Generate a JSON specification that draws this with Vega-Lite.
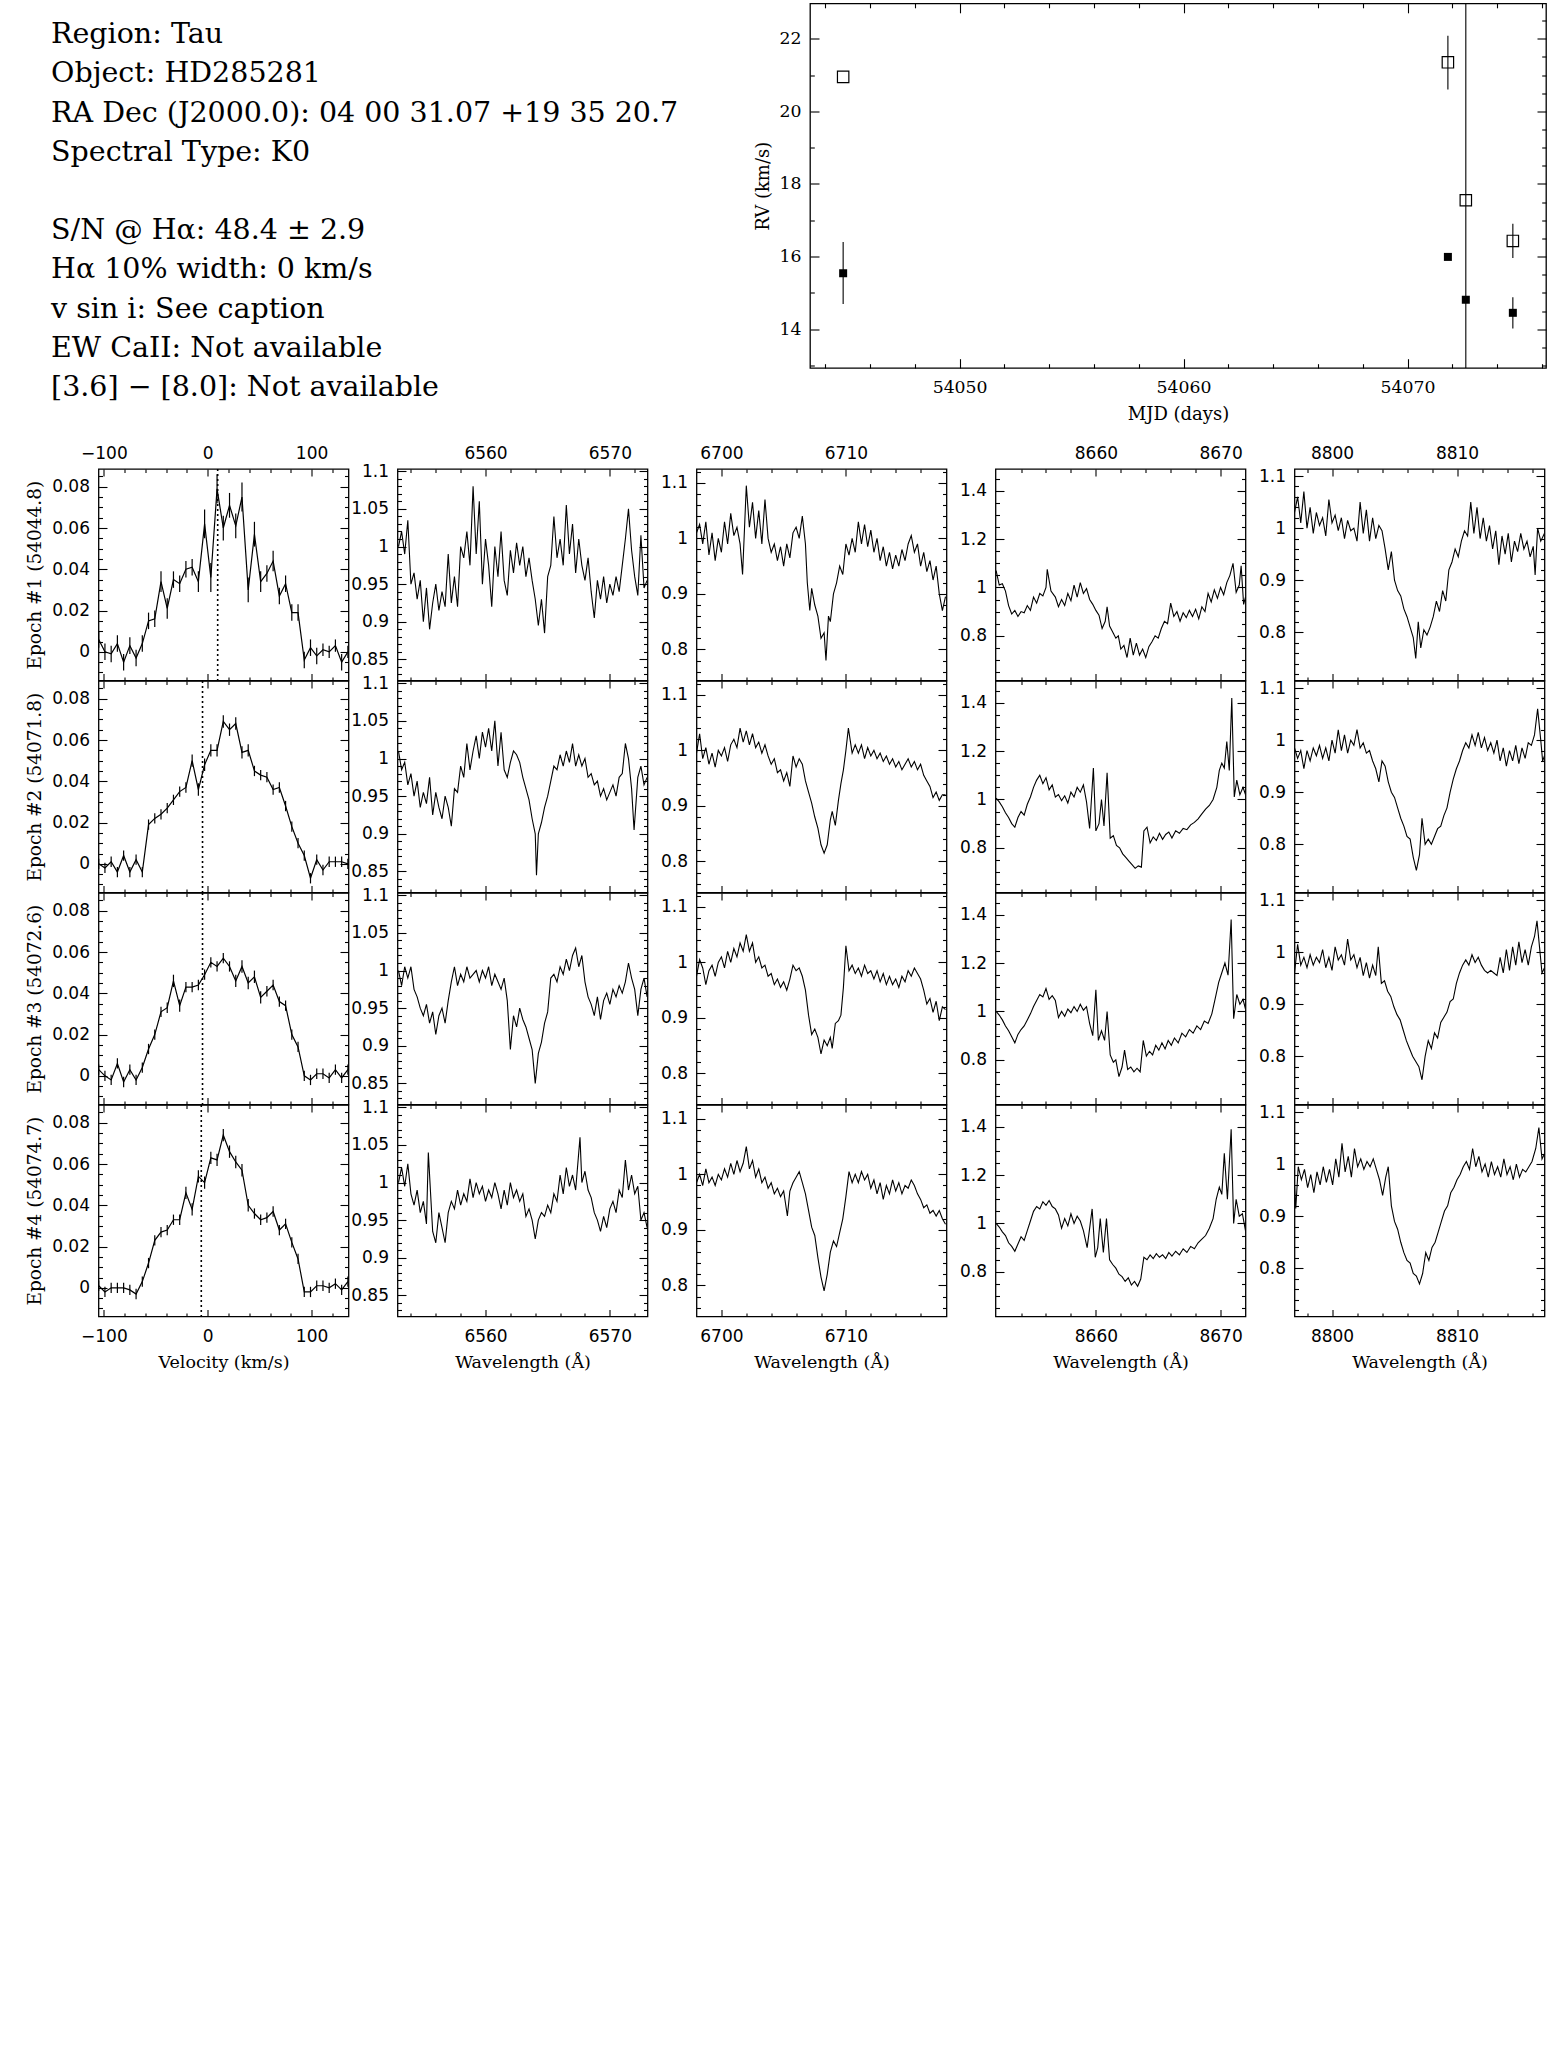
{
"$schema": "https://vega.github.io/schema/vega-lite/v6.json",
"background": "white",
"padding": {"left": 24.5, "top": 1.5, "right": 0, "bottom": 0},
"spacing": 14.5,
"config": {
 "view": {"stroke": "black", "strokeWidth": 1.3},
 "axis": {"domain": false, "grid": false, "ticks": true, "tickColor": "black", "tickWidth": 1.1, "labelFont": "DejaVu Sans", "labelFontSize": 17, "labelColor": "black", "labelFlush": false, "labelOverlap": false, "labelBound": false, "titleFont": "DejaVu Serif", "titleFontSize": 17.5, "titleFontWeight": "normal", "titleColor": "black"}
},
"datasets": {
 "txt": [{"x":0,"line":0,"s":"Region: Tau"},{"x":0,"line":1,"s":"Object: HD285281"},{"x":0,"line":2,"s":"RA Dec (J2000.0): 04 00 31.07 +19 35 20.7"},{"x":0,"line":3,"s":"Spectral Type: K0"},{"x":0,"line":5,"s":"S/N @ Hα: 48.4 ± 2.9"},{"x":0,"line":6,"s":"Hα 10% width: 0 km/s"},{"x":0,"line":7,"s":"v sin i: See caption"},{"x":0,"line":8,"s":"EW CaII: Not available"},{"x":0,"line":9,"s":"[3.6] − [8.0]: Not available"}],
 "rv": [{"t":54044.8,"rv":20.95,"lo":20.95,"hi":20.95,"k":"o"},{"t":54071.8,"rv":21.35,"lo":20.6,"hi":22.08,"k":"o"},{"t":54072.6,"rv":17.55,"lo":5,"hi":30,"k":"o"},{"t":54074.7,"rv":16.43,"lo":15.96,"hi":16.9,"k":"o"},{"t":54044.8,"rv":15.54,"lo":14.69,"hi":16.4,"k":"f"},{"t":54071.8,"rv":15.99,"lo":15.99,"hi":15.99,"k":"f"},{"t":54072.6,"rv":14.81,"lo":14.81,"hi":14.81,"k":"f"},{"t":54074.7,"rv":14.45,"lo":14.02,"hi":14.88,"k":"f"}],
 "v1": [{"v":-105,"f":0.006,"e":0.004},{"v":-99,"f":0,"e":0.004},{"v":-93,"f":-0.001,"e":0.004},{"v":-87,"f":0.004,"e":0.004},{"v":-81,"f":-0.005,"e":0.004},{"v":-75,"f":0.003,"e":0.004},{"v":-69,"f":-0.003,"e":0.004},{"v":-63,"f":0.004,"e":0.004},{"v":-57,"f":0.015,"e":0.004},{"v":-51,"f":0.016,"e":0.004},{"v":-45,"f":0.034,"e":0.005},{"v":-39,"f":0.021,"e":0.005},{"v":-33,"f":0.035,"e":0.004},{"v":-27,"f":0.033,"e":0.004},{"v":-21,"f":0.04,"e":0.004},{"v":-15,"f":0.041,"e":0.004},{"v":-9,"f":0.034,"e":0.005},{"v":-3,"f":0.062,"e":0.007},{"v":3,"f":0.036,"e":0.007},{"v":9,"f":0.079,"e":0.007},{"v":15,"f":0.06,"e":0.006},{"v":21,"f":0.071,"e":0.006},{"v":27,"f":0.061,"e":0.006},{"v":33,"f":0.075,"e":0.007},{"v":39,"f":0.03,"e":0.006},{"v":45,"f":0.057,"e":0.006},{"v":51,"f":0.034,"e":0.005},{"v":57,"f":0.038,"e":0.004},{"v":63,"f":0.044,"e":0.005},{"v":69,"f":0.027,"e":0.004},{"v":75,"f":0.033,"e":0.004},{"v":81,"f":0.019,"e":0.004},{"v":87,"f":0.019,"e":0.004},{"v":93,"f":-0.004,"e":0.004},{"v":99,"f":0.002,"e":0.004},{"v":105,"f":-0.002,"e":0.004},{"v":111,"f":0.001,"e":0.003},{"v":117,"f":0,"e":0.003},{"v":123,"f":0.003,"e":0.003},{"v":129,"f":-0.005,"e":0.004},{"v":135,"f":0,"e":0.003}],
 "v2": [{"v":-105,"f":0,"e":0.0025},{"v":-99,"f":-0.002,"e":0.0025},{"v":-93,"f":0.001,"e":0.0025},{"v":-87,"f":-0.004,"e":0.0025},{"v":-81,"f":0.004,"e":0.0025},{"v":-75,"f":-0.004,"e":0.0025},{"v":-69,"f":0.002,"e":0.0025},{"v":-63,"f":-0.004,"e":0.0025},{"v":-57,"f":0.019,"e":0.0025},{"v":-51,"f":0.022,"e":0.0025},{"v":-45,"f":0.024,"e":0.0025},{"v":-39,"f":0.027,"e":0.0025},{"v":-33,"f":0.031,"e":0.0025},{"v":-27,"f":0.035,"e":0.0025},{"v":-21,"f":0.037,"e":0.0025},{"v":-15,"f":0.05,"e":0.003},{"v":-9,"f":0.036,"e":0.003},{"v":-3,"f":0.048,"e":0.003},{"v":3,"f":0.055,"e":0.003},{"v":9,"f":0.055,"e":0.003},{"v":15,"f":0.069,"e":0.003},{"v":21,"f":0.065,"e":0.003},{"v":27,"f":0.068,"e":0.003},{"v":33,"f":0.054,"e":0.003},{"v":39,"f":0.055,"e":0.003},{"v":45,"f":0.045,"e":0.0025},{"v":51,"f":0.043,"e":0.0025},{"v":57,"f":0.042,"e":0.0025},{"v":63,"f":0.036,"e":0.0025},{"v":69,"f":0.037,"e":0.0025},{"v":75,"f":0.028,"e":0.0025},{"v":81,"f":0.018,"e":0.0025},{"v":87,"f":0.01,"e":0.0025},{"v":93,"f":0.004,"e":0.0025},{"v":99,"f":-0.007,"e":0.0025},{"v":105,"f":0.002,"e":0.0025},{"v":111,"f":-0.003,"e":0.0025},{"v":117,"f":0.001,"e":0.0025},{"v":123,"f":0.001,"e":0.0025},{"v":129,"f":0.001,"e":0.0025},{"v":135,"f":0,"e":0.0025}],
 "v3": [{"v":-105,"f":0.003,"e":0.0025},{"v":-99,"f":0,"e":0.0025},{"v":-93,"f":-0.002,"e":0.0025},{"v":-87,"f":0.006,"e":0.0025},{"v":-81,"f":-0.003,"e":0.0025},{"v":-75,"f":0.003,"e":0.0025},{"v":-69,"f":-0.002,"e":0.0025},{"v":-63,"f":0.004,"e":0.0025},{"v":-57,"f":0.013,"e":0.0025},{"v":-51,"f":0.02,"e":0.0025},{"v":-45,"f":0.031,"e":0.0025},{"v":-39,"f":0.033,"e":0.0025},{"v":-33,"f":0.046,"e":0.003},{"v":-27,"f":0.034,"e":0.003},{"v":-21,"f":0.043,"e":0.0025},{"v":-15,"f":0.043,"e":0.0025},{"v":-9,"f":0.044,"e":0.0025},{"v":-3,"f":0.049,"e":0.0025},{"v":3,"f":0.055,"e":0.0025},{"v":9,"f":0.053,"e":0.0025},{"v":15,"f":0.057,"e":0.0025},{"v":21,"f":0.053,"e":0.0025},{"v":27,"f":0.046,"e":0.003},{"v":33,"f":0.053,"e":0.003},{"v":39,"f":0.045,"e":0.003},{"v":45,"f":0.048,"e":0.003},{"v":51,"f":0.038,"e":0.003},{"v":57,"f":0.041,"e":0.0025},{"v":63,"f":0.044,"e":0.0025},{"v":69,"f":0.036,"e":0.0025},{"v":75,"f":0.034,"e":0.0025},{"v":81,"f":0.02,"e":0.0025},{"v":87,"f":0.014,"e":0.0025},{"v":93,"f":0,"e":0.0025},{"v":99,"f":-0.002,"e":0.0025},{"v":105,"f":0.001,"e":0.0025},{"v":111,"f":0.001,"e":0.0025},{"v":117,"f":-0.001,"e":0.0025},{"v":123,"f":0.003,"e":0.0025},{"v":129,"f":-0.001,"e":0.0025},{"v":135,"f":0.003,"e":0.0025}],
 "v4": [{"v":-105,"f":0.001,"e":0.0025},{"v":-99,"f":-0.002,"e":0.0025},{"v":-93,"f":0,"e":0.0025},{"v":-87,"f":0,"e":0.0025},{"v":-81,"f":0,"e":0.0025},{"v":-75,"f":-0.001,"e":0.0025},{"v":-69,"f":-0.003,"e":0.0025},{"v":-63,"f":0.003,"e":0.0025},{"v":-57,"f":0.012,"e":0.0025},{"v":-51,"f":0.023,"e":0.0025},{"v":-45,"f":0.027,"e":0.0025},{"v":-39,"f":0.028,"e":0.0025},{"v":-33,"f":0.033,"e":0.0025},{"v":-27,"f":0.033,"e":0.0025},{"v":-21,"f":0.046,"e":0.003},{"v":-15,"f":0.038,"e":0.003},{"v":-9,"f":0.054,"e":0.003},{"v":-3,"f":0.051,"e":0.003},{"v":3,"f":0.063,"e":0.003},{"v":9,"f":0.062,"e":0.003},{"v":15,"f":0.074,"e":0.003},{"v":21,"f":0.066,"e":0.003},{"v":27,"f":0.061,"e":0.003},{"v":33,"f":0.057,"e":0.003},{"v":39,"f":0.04,"e":0.003},{"v":45,"f":0.036,"e":0.0025},{"v":51,"f":0.033,"e":0.0025},{"v":57,"f":0.034,"e":0.0025},{"v":63,"f":0.037,"e":0.0025},{"v":69,"f":0.028,"e":0.0025},{"v":75,"f":0.031,"e":0.0025},{"v":81,"f":0.022,"e":0.0025},{"v":87,"f":0.014,"e":0.0025},{"v":93,"f":-0.002,"e":0.0025},{"v":99,"f":-0.002,"e":0.0025},{"v":105,"f":0.001,"e":0.0025},{"v":111,"f":0.001,"e":0.0025},{"v":117,"f":0,"e":0.0025},{"v":123,"f":0.002,"e":0.0025},{"v":129,"f":-0.001,"e":0.0025},{"v":135,"f":0.003,"e":0.0025}],
 "h1": [{"x":6553,"y":1},{"x":6553.25,"y":1.02},{"x":6553.5,"y":0.99},{"x":6553.75,"y":1.035},{"x":6554,"y":0.95},{"x":6554.25,"y":0.965},{"x":6554.5,"y":0.93},{"x":6554.75,"y":0.955},{"x":6555,"y":0.9},{"x":6555.25,"y":0.945},{"x":6555.5,"y":0.89},{"x":6555.75,"y":0.925},{"x":6556,"y":0.95},{"x":6556.25,"y":0.915},{"x":6556.5,"y":0.94},{"x":6556.75,"y":0.92},{"x":6557,"y":0.99},{"x":6557.25,"y":0.925},{"x":6557.5,"y":0.96},{"x":6557.75,"y":0.92},{"x":6558,"y":1},{"x":6558.25,"y":0.985},{"x":6558.5,"y":1.02},{"x":6558.75,"y":0.975},{"x":6559,"y":1.08},{"x":6559.25,"y":0.99},{"x":6559.5,"y":1.06},{"x":6559.75,"y":0.95},{"x":6560,"y":1.01},{"x":6560.25,"y":0.975},{"x":6560.5,"y":0.92},{"x":6560.75,"y":1},{"x":6561,"y":0.96},{"x":6561.25,"y":1.02},{"x":6561.5,"y":0.955},{"x":6561.75,"y":0.935},{"x":6562,"y":0.995},{"x":6562.25,"y":0.965},{"x":6562.5,"y":1.005},{"x":6562.75,"y":0.975},{"x":6563,"y":1},{"x":6563.25,"y":0.96},{"x":6563.5,"y":0.985},{"x":6563.75,"y":0.955},{"x":6564,"y":0.93},{"x":6564.25,"y":0.895},{"x":6564.5,"y":0.93},{"x":6564.75,"y":0.885},{"x":6565,"y":0.96},{"x":6565.25,"y":0.975},{"x":6565.5,"y":1.04},{"x":6565.75,"y":0.985},{"x":6566,"y":1.01},{"x":6566.25,"y":0.975},{"x":6566.5,"y":1.055},{"x":6566.75,"y":0.99},{"x":6567,"y":1.03},{"x":6567.25,"y":0.965},{"x":6567.5,"y":1.01},{"x":6567.75,"y":0.975},{"x":6568,"y":0.955},{"x":6568.25,"y":0.985},{"x":6568.5,"y":0.94},{"x":6568.75,"y":0.905},{"x":6569,"y":0.955},{"x":6569.25,"y":0.93},{"x":6569.5,"y":0.96},{"x":6569.75,"y":0.925},{"x":6570,"y":0.95},{"x":6570.25,"y":0.935},{"x":6570.5,"y":0.96},{"x":6570.75,"y":0.94},{"x":6571,"y":0.975},{"x":6571.25,"y":1.01},{"x":6571.5,"y":1.05},{"x":6571.75,"y":0.995},{"x":6572,"y":0.96},{"x":6572.25,"y":0.935},{"x":6572.5,"y":1.015},{"x":6572.75,"y":0.945},{"x":6573,"y":0.955}],
 "h2": [{"x":6553,"y":1.01},{"x":6553.25,"y":0.985},{"x":6553.5,"y":0.995},{"x":6553.75,"y":0.965},{"x":6554,"y":0.98},{"x":6554.25,"y":0.95},{"x":6554.5,"y":0.97},{"x":6554.75,"y":0.935},{"x":6555,"y":0.955},{"x":6555.25,"y":0.94},{"x":6555.5,"y":0.975},{"x":6555.75,"y":0.925},{"x":6556,"y":0.955},{"x":6556.25,"y":0.935},{"x":6556.5,"y":0.92},{"x":6556.75,"y":0.95},{"x":6557,"y":0.935},{"x":6557.25,"y":0.91},{"x":6557.5,"y":0.96},{"x":6557.75,"y":0.955},{"x":6558,"y":0.99},{"x":6558.25,"y":0.975},{"x":6558.5,"y":1.02},{"x":6558.75,"y":0.985},{"x":6559,"y":1.01},{"x":6559.25,"y":1.03},{"x":6559.5,"y":1},{"x":6559.75,"y":1.035},{"x":6560,"y":1.015},{"x":6560.25,"y":1.04},{"x":6560.5,"y":1.01},{"x":6560.75,"y":1.05},{"x":6561,"y":0.99},{"x":6561.25,"y":1.035},{"x":6561.5,"y":0.985},{"x":6561.75,"y":0.975},{"x":6562,"y":0.995},{"x":6562.25,"y":1.01},{"x":6562.5,"y":1.005},{"x":6562.75,"y":0.995},{"x":6563,"y":0.975},{"x":6563.25,"y":0.96},{"x":6563.5,"y":0.945},{"x":6563.75,"y":0.92},{"x":6564,"y":0.9},{"x":6564.1,"y":0.845},{"x":6564.25,"y":0.9},{"x":6564.5,"y":0.915},{"x":6564.75,"y":0.935},{"x":6565,"y":0.95},{"x":6565.25,"y":0.97},{"x":6565.5,"y":0.99},{"x":6565.75,"y":0.985},{"x":6566,"y":1.005},{"x":6566.25,"y":0.99},{"x":6566.5,"y":1.01},{"x":6566.75,"y":0.995},{"x":6567,"y":1.02},{"x":6567.25,"y":0.99},{"x":6567.5,"y":1.005},{"x":6567.75,"y":0.99},{"x":6568,"y":1},{"x":6568.25,"y":0.975},{"x":6568.5,"y":0.98},{"x":6568.75,"y":0.965},{"x":6569,"y":0.97},{"x":6569.25,"y":0.95},{"x":6569.5,"y":0.96},{"x":6569.75,"y":0.945},{"x":6570,"y":0.955},{"x":6570.25,"y":0.965},{"x":6570.5,"y":0.95},{"x":6570.75,"y":0.975},{"x":6571,"y":0.98},{"x":6571.25,"y":1.02},{"x":6571.5,"y":1},{"x":6571.75,"y":0.96},{"x":6571.95,"y":0.905},{"x":6572.25,"y":0.975},{"x":6572.5,"y":0.99},{"x":6572.75,"y":0.965},{"x":6573,"y":0.975}],
 "h3": [{"x":6553,"y":1},{"x":6553.25,"y":0.98},{"x":6553.5,"y":1.005},{"x":6553.75,"y":0.99},{"x":6554,"y":1.005},{"x":6554.25,"y":0.975},{"x":6554.5,"y":0.965},{"x":6554.75,"y":0.95},{"x":6555,"y":0.94},{"x":6555.25,"y":0.955},{"x":6555.5,"y":0.93},{"x":6555.75,"y":0.945},{"x":6556,"y":0.915},{"x":6556.25,"y":0.94},{"x":6556.5,"y":0.95},{"x":6556.75,"y":0.93},{"x":6557,"y":0.96},{"x":6557.25,"y":0.985},{"x":6557.5,"y":1.005},{"x":6557.75,"y":0.98},{"x":6558,"y":0.995},{"x":6558.25,"y":0.985},{"x":6558.5,"y":1.005},{"x":6558.75,"y":0.99},{"x":6559,"y":0.995},{"x":6559.25,"y":1},{"x":6559.5,"y":0.985},{"x":6559.75,"y":1},{"x":6560,"y":0.99},{"x":6560.25,"y":1.005},{"x":6560.5,"y":0.98},{"x":6560.75,"y":0.995},{"x":6561,"y":0.985},{"x":6561.25,"y":0.975},{"x":6561.5,"y":0.99},{"x":6561.75,"y":0.96},{"x":6562,"y":0.895},{"x":6562.25,"y":0.94},{"x":6562.5,"y":0.925},{"x":6562.75,"y":0.95},{"x":6563,"y":0.935},{"x":6563.25,"y":0.925},{"x":6563.5,"y":0.91},{"x":6563.75,"y":0.895},{"x":6564,"y":0.85},{"x":6564.25,"y":0.89},{"x":6564.5,"y":0.905},{"x":6564.75,"y":0.93},{"x":6565,"y":0.945},{"x":6565.25,"y":0.99},{"x":6565.5,"y":0.995},{"x":6565.75,"y":0.985},{"x":6566,"y":1.005},{"x":6566.25,"y":0.995},{"x":6566.5,"y":1.015},{"x":6566.75,"y":1},{"x":6567,"y":1.02},{"x":6567.25,"y":1.03},{"x":6567.5,"y":1.005},{"x":6567.75,"y":1.02},{"x":6568,"y":0.985},{"x":6568.25,"y":0.965},{"x":6568.5,"y":0.955},{"x":6568.75,"y":0.94},{"x":6569,"y":0.965},{"x":6569.25,"y":0.935},{"x":6569.5,"y":0.96},{"x":6569.75,"y":0.97},{"x":6570,"y":0.955},{"x":6570.25,"y":0.975},{"x":6570.5,"y":0.965},{"x":6570.75,"y":0.98},{"x":6571,"y":0.97},{"x":6571.25,"y":0.985},{"x":6571.5,"y":1.01},{"x":6571.75,"y":0.99},{"x":6572,"y":0.975},{"x":6572.25,"y":0.94},{"x":6572.5,"y":0.975},{"x":6572.75,"y":0.99},{"x":6573,"y":0.965}],
 "h4": [{"x":6553,"y":1},{"x":6553.25,"y":1.02},{"x":6553.5,"y":0.995},{"x":6553.75,"y":1.025},{"x":6554,"y":0.985},{"x":6554.25,"y":0.97},{"x":6554.5,"y":0.99},{"x":6554.75,"y":0.96},{"x":6555,"y":0.975},{"x":6555.25,"y":0.945},{"x":6555.4,"y":1.04},{"x":6555.75,"y":0.935},{"x":6556,"y":0.92},{"x":6556.25,"y":0.96},{"x":6556.5,"y":0.94},{"x":6556.75,"y":0.92},{"x":6557,"y":0.96},{"x":6557.25,"y":0.975},{"x":6557.5,"y":0.965},{"x":6557.75,"y":0.99},{"x":6558,"y":0.97},{"x":6558.25,"y":0.985},{"x":6558.5,"y":0.975},{"x":6558.75,"y":1.005},{"x":6559,"y":0.98},{"x":6559.25,"y":1},{"x":6559.5,"y":0.985},{"x":6559.75,"y":0.995},{"x":6560,"y":0.975},{"x":6560.25,"y":0.99},{"x":6560.5,"y":0.98},{"x":6560.75,"y":1},{"x":6561,"y":0.985},{"x":6561.25,"y":0.965},{"x":6561.5,"y":0.99},{"x":6561.75,"y":0.97},{"x":6562,"y":1},{"x":6562.25,"y":0.98},{"x":6562.5,"y":0.99},{"x":6562.75,"y":0.975},{"x":6563,"y":0.985},{"x":6563.25,"y":0.955},{"x":6563.5,"y":0.965},{"x":6563.75,"y":0.95},{"x":6564,"y":0.925},{"x":6564.25,"y":0.95},{"x":6564.5,"y":0.96},{"x":6564.75,"y":0.955},{"x":6565,"y":0.97},{"x":6565.25,"y":0.96},{"x":6565.5,"y":0.985},{"x":6565.75,"y":0.975},{"x":6566,"y":1.01},{"x":6566.25,"y":0.985},{"x":6566.5,"y":1.02},{"x":6566.75,"y":0.995},{"x":6567,"y":1.01},{"x":6567.25,"y":0.99},{"x":6567.6,"y":1.06},{"x":6567.75,"y":1},{"x":6568,"y":1.015},{"x":6568.25,"y":0.99},{"x":6568.5,"y":0.98},{"x":6568.75,"y":0.96},{"x":6569,"y":0.95},{"x":6569.25,"y":0.935},{"x":6569.5,"y":0.955},{"x":6569.75,"y":0.94},{"x":6570,"y":0.965},{"x":6570.25,"y":0.975},{"x":6570.5,"y":0.96},{"x":6570.75,"y":0.99},{"x":6571,"y":0.98},{"x":6571.25,"y":1.03},{"x":6571.5,"y":0.99},{"x":6571.75,"y":1.01},{"x":6572,"y":0.985},{"x":6572.25,"y":0.995},{"x":6572.5,"y":0.95},{"x":6572.75,"y":0.96},{"x":6573,"y":0.94}],
 "l1": [{"x":6698,"y":1.01},{"x":6698.25,"y":1.025},{"x":6698.5,"y":0.99},{"x":6698.75,"y":1.03},{"x":6699,"y":0.97},{"x":6699.25,"y":1.01},{"x":6699.5,"y":0.96},{"x":6699.75,"y":1},{"x":6700,"y":0.975},{"x":6700.25,"y":1.03},{"x":6700.5,"y":0.99},{"x":6700.75,"y":1.045},{"x":6701,"y":1.005},{"x":6701.25,"y":1.02},{"x":6701.5,"y":0.99},{"x":6701.7,"y":0.935},{"x":6702,"y":1.095},{"x":6702.25,"y":1.02},{"x":6702.5,"y":1.065},{"x":6702.75,"y":1},{"x":6703,"y":1.05},{"x":6703.25,"y":0.99},{"x":6703.5,"y":1.07},{"x":6703.75,"y":1},{"x":6704,"y":0.975},{"x":6704.25,"y":0.99},{"x":6704.5,"y":0.96},{"x":6704.75,"y":0.985},{"x":6705,"y":0.95},{"x":6705.25,"y":0.99},{"x":6705.5,"y":0.965},{"x":6705.75,"y":1.01},{"x":6706,"y":1.02},{"x":6706.25,"y":1},{"x":6706.5,"y":1.04},{"x":6706.75,"y":0.99},{"x":6706.9,"y":0.92},{"x":6707.1,"y":0.87},{"x":6707.25,"y":0.91},{"x":6707.5,"y":0.88},{"x":6707.75,"y":0.86},{"x":6708,"y":0.82},{"x":6708.25,"y":0.83},{"x":6708.4,"y":0.78},{"x":6708.6,"y":0.86},{"x":6708.75,"y":0.85},{"x":6709,"y":0.9},{"x":6709.25,"y":0.92},{"x":6709.5,"y":0.95},{"x":6709.75,"y":0.935},{"x":6710,"y":0.99},{"x":6710.25,"y":0.97},{"x":6710.5,"y":1},{"x":6710.75,"y":0.975},{"x":6711,"y":1.03},{"x":6711.25,"y":0.99},{"x":6711.5,"y":1.025},{"x":6711.75,"y":0.985},{"x":6712,"y":1.015},{"x":6712.25,"y":0.975},{"x":6712.5,"y":1},{"x":6712.75,"y":0.96},{"x":6713,"y":0.985},{"x":6713.25,"y":0.95},{"x":6713.5,"y":0.975},{"x":6713.75,"y":0.945},{"x":6714,"y":0.97},{"x":6714.25,"y":0.95},{"x":6714.5,"y":0.98},{"x":6714.75,"y":0.96},{"x":6715,"y":0.99},{"x":6715.25,"y":1.005},{"x":6715.5,"y":0.975},{"x":6715.75,"y":0.99},{"x":6716,"y":0.95},{"x":6716.25,"y":0.975},{"x":6716.5,"y":0.94},{"x":6716.75,"y":0.96},{"x":6717,"y":0.925},{"x":6717.25,"y":0.95},{"x":6717.5,"y":0.9},{"x":6717.75,"y":0.87},{"x":6718,"y":0.895}],
 "l2": [{"x":6698,"y":0.995},{"x":6698.25,"y":1.03},{"x":6698.5,"y":0.985},{"x":6698.75,"y":1.005},{"x":6699,"y":0.975},{"x":6699.25,"y":0.995},{"x":6699.5,"y":0.97},{"x":6699.75,"y":1},{"x":6700,"y":0.99},{"x":6700.25,"y":1.005},{"x":6700.5,"y":0.98},{"x":6700.75,"y":1.01},{"x":6701,"y":1.02},{"x":6701.25,"y":1.005},{"x":6701.5,"y":1.04},{"x":6701.75,"y":1.015},{"x":6702,"y":1.035},{"x":6702.25,"y":1.01},{"x":6702.5,"y":1.03},{"x":6702.75,"y":1.005},{"x":6703,"y":1.015},{"x":6703.25,"y":0.995},{"x":6703.5,"y":1.01},{"x":6703.75,"y":0.99},{"x":6704,"y":0.975},{"x":6704.25,"y":0.985},{"x":6704.5,"y":0.96},{"x":6704.75,"y":0.965},{"x":6705,"y":0.945},{"x":6705.25,"y":0.96},{"x":6705.5,"y":0.935},{"x":6705.75,"y":0.99},{"x":6706,"y":0.97},{"x":6706.25,"y":0.985},{"x":6706.5,"y":0.975},{"x":6706.75,"y":0.945},{"x":6707,"y":0.925},{"x":6707.25,"y":0.905},{"x":6707.5,"y":0.88},{"x":6707.75,"y":0.86},{"x":6708,"y":0.83},{"x":6708.25,"y":0.815},{"x":6708.5,"y":0.83},{"x":6708.75,"y":0.875},{"x":6708.9,"y":0.89},{"x":6709.15,"y":0.865},{"x":6709.4,"y":0.91},{"x":6709.6,"y":0.94},{"x":6709.8,"y":0.965},{"x":6710,"y":1},{"x":6710.2,"y":1.04},{"x":6710.5,"y":0.995},{"x":6710.75,"y":1.01},{"x":6711,"y":0.995},{"x":6711.25,"y":1.01},{"x":6711.5,"y":0.985},{"x":6711.75,"y":1.005},{"x":6712,"y":0.99},{"x":6712.25,"y":1},{"x":6712.5,"y":0.985},{"x":6712.75,"y":0.995},{"x":6713,"y":0.98},{"x":6713.25,"y":0.99},{"x":6713.5,"y":0.975},{"x":6713.75,"y":0.985},{"x":6714,"y":0.97},{"x":6714.25,"y":0.98},{"x":6714.5,"y":0.965},{"x":6714.75,"y":0.975},{"x":6715,"y":0.985},{"x":6715.25,"y":0.97},{"x":6715.5,"y":0.98},{"x":6715.75,"y":0.965},{"x":6716,"y":0.975},{"x":6716.25,"y":0.955},{"x":6716.5,"y":0.945},{"x":6716.75,"y":0.935},{"x":6717,"y":0.915},{"x":6717.25,"y":0.925},{"x":6717.5,"y":0.91},{"x":6717.75,"y":0.92},{"x":6718,"y":0.92}],
 "l3": [{"x":6698,"y":0.975},{"x":6698.25,"y":1.005},{"x":6698.5,"y":0.99},{"x":6698.75,"y":0.96},{"x":6699,"y":0.985},{"x":6699.25,"y":0.995},{"x":6699.5,"y":0.975},{"x":6699.75,"y":1},{"x":6700,"y":1.01},{"x":6700.25,"y":0.99},{"x":6700.5,"y":1.02},{"x":6700.75,"y":1},{"x":6701,"y":1.025},{"x":6701.25,"y":1.01},{"x":6701.5,"y":1.035},{"x":6701.75,"y":1.02},{"x":6702,"y":1.05},{"x":6702.25,"y":1.02},{"x":6702.5,"y":1.035},{"x":6702.75,"y":1},{"x":6703,"y":1.01},{"x":6703.25,"y":0.99},{"x":6703.5,"y":0.995},{"x":6703.75,"y":0.975},{"x":6704,"y":0.98},{"x":6704.25,"y":0.96},{"x":6704.5,"y":0.97},{"x":6704.75,"y":0.955},{"x":6705,"y":0.965},{"x":6705.25,"y":0.95},{"x":6705.5,"y":0.97},{"x":6705.75,"y":0.995},{"x":6706,"y":0.985},{"x":6706.25,"y":0.99},{"x":6706.5,"y":0.975},{"x":6706.75,"y":0.95},{"x":6707,"y":0.905},{"x":6707.25,"y":0.87},{"x":6707.5,"y":0.88},{"x":6707.75,"y":0.865},{"x":6708,"y":0.835},{"x":6708.25,"y":0.86},{"x":6708.5,"y":0.85},{"x":6708.75,"y":0.865},{"x":6708.9,"y":0.845},{"x":6709.15,"y":0.89},{"x":6709.4,"y":0.895},{"x":6709.6,"y":0.905},{"x":6709.8,"y":0.955},{"x":6710,"y":1.03},{"x":6710.25,"y":0.985},{"x":6710.5,"y":0.995},{"x":6710.75,"y":0.98},{"x":6711,"y":0.99},{"x":6711.25,"y":0.975},{"x":6711.5,"y":0.995},{"x":6711.75,"y":0.98},{"x":6712,"y":0.985},{"x":6712.25,"y":0.97},{"x":6712.5,"y":0.985},{"x":6712.75,"y":0.965},{"x":6713,"y":0.98},{"x":6713.25,"y":0.96},{"x":6713.5,"y":0.975},{"x":6713.75,"y":0.96},{"x":6714,"y":0.97},{"x":6714.25,"y":0.955},{"x":6714.5,"y":0.975},{"x":6714.75,"y":0.965},{"x":6715,"y":0.985},{"x":6715.25,"y":0.975},{"x":6715.5,"y":0.99},{"x":6715.75,"y":0.98},{"x":6716,"y":0.97},{"x":6716.25,"y":0.95},{"x":6716.5,"y":0.925},{"x":6716.75,"y":0.935},{"x":6717,"y":0.91},{"x":6717.25,"y":0.93},{"x":6717.5,"y":0.895},{"x":6717.75,"y":0.92},{"x":6718,"y":0.915}],
 "l4": [{"x":6698,"y":0.985},{"x":6698.25,"y":1},{"x":6698.5,"y":0.98},{"x":6698.75,"y":1.01},{"x":6699,"y":0.985},{"x":6699.25,"y":0.995},{"x":6699.5,"y":0.98},{"x":6699.75,"y":1},{"x":6700,"y":0.99},{"x":6700.25,"y":1.01},{"x":6700.5,"y":0.995},{"x":6700.75,"y":1.02},{"x":6701,"y":1},{"x":6701.25,"y":1.025},{"x":6701.5,"y":1.005},{"x":6701.75,"y":1.02},{"x":6702,"y":1.05},{"x":6702.25,"y":1.01},{"x":6702.5,"y":1.025},{"x":6702.75,"y":0.995},{"x":6703,"y":1.01},{"x":6703.25,"y":0.985},{"x":6703.5,"y":0.995},{"x":6703.75,"y":0.975},{"x":6704,"y":0.985},{"x":6704.25,"y":0.965},{"x":6704.5,"y":0.975},{"x":6704.75,"y":0.96},{"x":6705,"y":0.97},{"x":6705.3,"y":0.925},{"x":6705.5,"y":0.97},{"x":6705.75,"y":0.985},{"x":6706,"y":0.995},{"x":6706.25,"y":1.005},{"x":6706.5,"y":0.985},{"x":6706.75,"y":0.965},{"x":6707,"y":0.935},{"x":6707.25,"y":0.905},{"x":6707.5,"y":0.89},{"x":6707.75,"y":0.85},{"x":6708,"y":0.815},{"x":6708.25,"y":0.79},{"x":6708.5,"y":0.82},{"x":6708.75,"y":0.86},{"x":6709,"y":0.88},{"x":6709.25,"y":0.87},{"x":6709.5,"y":0.895},{"x":6709.75,"y":0.92},{"x":6710,"y":0.96},{"x":6710.25,"y":1.005},{"x":6710.5,"y":0.985},{"x":6710.75,"y":1},{"x":6711,"y":0.985},{"x":6711.25,"y":1.005},{"x":6711.5,"y":0.99},{"x":6711.75,"y":1},{"x":6712,"y":0.975},{"x":6712.25,"y":0.99},{"x":6712.5,"y":0.965},{"x":6712.75,"y":0.985},{"x":6713,"y":0.955},{"x":6713.25,"y":0.98},{"x":6713.5,"y":0.965},{"x":6713.75,"y":0.99},{"x":6714,"y":0.97},{"x":6714.25,"y":0.985},{"x":6714.5,"y":0.965},{"x":6714.75,"y":0.98},{"x":6715,"y":0.975},{"x":6715.25,"y":0.99},{"x":6715.5,"y":0.98},{"x":6715.75,"y":0.965},{"x":6716,"y":0.955},{"x":6716.25,"y":0.94},{"x":6716.5,"y":0.945},{"x":6716.75,"y":0.93},{"x":6717,"y":0.935},{"x":6717.25,"y":0.925},{"x":6717.5,"y":0.935},{"x":6717.75,"y":0.92},{"x":6718,"y":0.91}],
 "c1": [{"x":8652,"y":1.07},{"x":8652.25,"y":1.01},{"x":8652.5,"y":1.015},{"x":8652.75,"y":0.985},{"x":8653,"y":0.925},{"x":8653.25,"y":0.89},{"x":8653.5,"y":0.905},{"x":8653.75,"y":0.88},{"x":8654,"y":0.9},{"x":8654.25,"y":0.895},{"x":8654.5,"y":0.925},{"x":8654.75,"y":0.905},{"x":8655,"y":0.96},{"x":8655.25,"y":0.935},{"x":8655.5,"y":0.975},{"x":8655.75,"y":0.965},{"x":8656,"y":1},{"x":8656.1,"y":1.075},{"x":8656.4,"y":0.985},{"x":8656.75,"y":0.96},{"x":8657,"y":0.92},{"x":8657.25,"y":0.95},{"x":8657.5,"y":0.925},{"x":8657.75,"y":0.975},{"x":8658,"y":0.945},{"x":8658.25,"y":1.01},{"x":8658.5,"y":0.96},{"x":8658.75,"y":1.02},{"x":8659,"y":0.975},{"x":8659.25,"y":0.995},{"x":8659.5,"y":0.95},{"x":8659.75,"y":0.93},{"x":8660,"y":0.905},{"x":8660.25,"y":0.885},{"x":8660.5,"y":0.83},{"x":8660.75,"y":0.86},{"x":8660.9,"y":0.92},{"x":8661.1,"y":0.84},{"x":8661.4,"y":0.81},{"x":8661.6,"y":0.79},{"x":8661.8,"y":0.8},{"x":8662,"y":0.745},{"x":8662.25,"y":0.76},{"x":8662.5,"y":0.71},{"x":8662.75,"y":0.79},{"x":8663,"y":0.72},{"x":8663.25,"y":0.77},{"x":8663.5,"y":0.72},{"x":8663.75,"y":0.745},{"x":8664,"y":0.71},{"x":8664.25,"y":0.755},{"x":8664.5,"y":0.775},{"x":8664.75,"y":0.8},{"x":8665,"y":0.79},{"x":8665.25,"y":0.83},{"x":8665.5,"y":0.86},{"x":8665.75,"y":0.85},{"x":8666,"y":0.935},{"x":8666.25,"y":0.88},{"x":8666.5,"y":0.9},{"x":8666.75,"y":0.86},{"x":8667,"y":0.895},{"x":8667.25,"y":0.875},{"x":8667.5,"y":0.905},{"x":8667.75,"y":0.88},{"x":8668,"y":0.91},{"x":8668.25,"y":0.87},{"x":8668.5,"y":0.92},{"x":8668.75,"y":0.9},{"x":8669,"y":0.975},{"x":8669.25,"y":0.94},{"x":8669.5,"y":0.99},{"x":8669.75,"y":0.955},{"x":8670,"y":1},{"x":8670.25,"y":0.97},{"x":8670.5,"y":1.02},{"x":8670.75,"y":1.05},{"x":8671,"y":1.1},{"x":8671.25,"y":0.98},{"x":8671.5,"y":1.01},{"x":8671.65,"y":1.09},{"x":8671.85,"y":0.93},{"x":8672,"y":0.96}],
 "c2": [{"x":8652,"y":1.005},{"x":8652.25,"y":0.99},{"x":8652.5,"y":0.97},{"x":8652.75,"y":0.945},{"x":8653,"y":0.925},{"x":8653.25,"y":0.9},{"x":8653.5,"y":0.885},{"x":8653.75,"y":0.925},{"x":8654,"y":0.95},{"x":8654.25,"y":0.935},{"x":8654.5,"y":0.98},{"x":8654.75,"y":1.01},{"x":8655,"y":1.05},{"x":8655.25,"y":1.08},{"x":8655.5,"y":1.1},{"x":8655.75,"y":1.065},{"x":8656,"y":1.09},{"x":8656.25,"y":1.04},{"x":8656.5,"y":1.06},{"x":8656.75,"y":1.01},{"x":8657,"y":1.02},{"x":8657.25,"y":0.995},{"x":8657.5,"y":1.015},{"x":8657.75,"y":0.985},{"x":8658,"y":1.03},{"x":8658.25,"y":1.01},{"x":8658.5,"y":1.05},{"x":8658.75,"y":1.03},{"x":8659,"y":1.06},{"x":8659.25,"y":0.99},{"x":8659.5,"y":0.88},{"x":8659.8,"y":1.13},{"x":8660,"y":0.87},{"x":8660.25,"y":0.9},{"x":8660.45,"y":1},{"x":8660.65,"y":0.89},{"x":8660.9,"y":1.11},{"x":8661.15,"y":0.84},{"x":8661.4,"y":0.85},{"x":8661.65,"y":0.81},{"x":8661.9,"y":0.8},{"x":8662.15,"y":0.775},{"x":8662.4,"y":0.76},{"x":8662.65,"y":0.745},{"x":8662.9,"y":0.73},{"x":8663.15,"y":0.715},{"x":8663.4,"y":0.725},{"x":8663.65,"y":0.72},{"x":8663.85,"y":0.87},{"x":8664.1,"y":0.885},{"x":8664.35,"y":0.82},{"x":8664.6,"y":0.845},{"x":8664.85,"y":0.83},{"x":8665.1,"y":0.86},{"x":8665.35,"y":0.835},{"x":8665.6,"y":0.855},{"x":8665.85,"y":0.865},{"x":8666.1,"y":0.84},{"x":8666.4,"y":0.87},{"x":8666.7,"y":0.86},{"x":8667,"y":0.88},{"x":8667.3,"y":0.875},{"x":8667.6,"y":0.895},{"x":8667.9,"y":0.905},{"x":8668.2,"y":0.92},{"x":8668.5,"y":0.94},{"x":8668.8,"y":0.96},{"x":8669.1,"y":0.975},{"x":8669.4,"y":1},{"x":8669.7,"y":1.05},{"x":8669.9,"y":1.12},{"x":8670.1,"y":1.15},{"x":8670.3,"y":1.13},{"x":8670.5,"y":1.24},{"x":8670.7,"y":1.12},{"x":8670.9,"y":1.42},{"x":8671.1,"y":1.01},{"x":8671.3,"y":1.08},{"x":8671.55,"y":1.02},{"x":8671.8,"y":1.05},{"x":8672,"y":1.02}],
 "c3": [{"x":8652,"y":1},{"x":8652.25,"y":0.985},{"x":8652.5,"y":0.965},{"x":8652.75,"y":0.94},{"x":8653,"y":0.92},{"x":8653.25,"y":0.895},{"x":8653.5,"y":0.87},{"x":8653.75,"y":0.905},{"x":8654,"y":0.925},{"x":8654.25,"y":0.94},{"x":8654.5,"y":0.965},{"x":8654.75,"y":0.99},{"x":8655,"y":1.02},{"x":8655.25,"y":1.045},{"x":8655.5,"y":1.07},{"x":8655.75,"y":1.06},{"x":8656,"y":1.095},{"x":8656.25,"y":1.05},{"x":8656.5,"y":1.065},{"x":8656.75,"y":1.045},{"x":8657,"y":0.975},{"x":8657.25,"y":1},{"x":8657.5,"y":0.98},{"x":8657.75,"y":1.01},{"x":8658,"y":0.995},{"x":8658.25,"y":1.02},{"x":8658.5,"y":1},{"x":8658.75,"y":1.03},{"x":8659,"y":1.005},{"x":8659.25,"y":1.02},{"x":8659.5,"y":0.95},{"x":8659.75,"y":0.9},{"x":8660,"y":1.09},{"x":8660.2,"y":0.88},{"x":8660.45,"y":0.92},{"x":8660.7,"y":0.88},{"x":8660.9,"y":1},{"x":8661.15,"y":0.82},{"x":8661.4,"y":0.79},{"x":8661.6,"y":0.8},{"x":8661.85,"y":0.73},{"x":8662.1,"y":0.77},{"x":8662.3,"y":0.84},{"x":8662.55,"y":0.76},{"x":8662.8,"y":0.77},{"x":8663.05,"y":0.75},{"x":8663.3,"y":0.765},{"x":8663.55,"y":0.75},{"x":8663.8,"y":0.88},{"x":8664.05,"y":0.815},{"x":8664.3,"y":0.835},{"x":8664.55,"y":0.82},{"x":8664.8,"y":0.86},{"x":8665.05,"y":0.84},{"x":8665.3,"y":0.87},{"x":8665.55,"y":0.845},{"x":8665.8,"y":0.88},{"x":8666.05,"y":0.86},{"x":8666.3,"y":0.89},{"x":8666.6,"y":0.87},{"x":8666.9,"y":0.91},{"x":8667.2,"y":0.895},{"x":8667.5,"y":0.925},{"x":8667.8,"y":0.91},{"x":8668.1,"y":0.94},{"x":8668.4,"y":0.925},{"x":8668.7,"y":0.96},{"x":8669,"y":0.95},{"x":8669.3,"y":0.99},{"x":8669.6,"y":1.06},{"x":8669.85,"y":1.12},{"x":8670.1,"y":1.16},{"x":8670.35,"y":1.2},{"x":8670.6,"y":1.15},{"x":8670.85,"y":1.38},{"x":8671.05,"y":0.97},{"x":8671.3,"y":1.07},{"x":8671.55,"y":1.03},{"x":8671.8,"y":1.05},{"x":8672,"y":1.01}],
 "c4": [{"x":8652,"y":1},{"x":8652.25,"y":0.985},{"x":8652.5,"y":0.965},{"x":8652.75,"y":0.95},{"x":8653,"y":0.92},{"x":8653.25,"y":0.905},{"x":8653.5,"y":0.885},{"x":8653.75,"y":0.915},{"x":8654,"y":0.945},{"x":8654.25,"y":0.93},{"x":8654.5,"y":0.97},{"x":8654.75,"y":1.01},{"x":8655,"y":1.05},{"x":8655.25,"y":1.07},{"x":8655.5,"y":1.06},{"x":8655.75,"y":1.09},{"x":8656,"y":1.075},{"x":8656.25,"y":1.095},{"x":8656.5,"y":1.07},{"x":8656.75,"y":1.06},{"x":8657,"y":1.035},{"x":8657.25,"y":0.98},{"x":8657.5,"y":1.02},{"x":8657.75,"y":0.99},{"x":8658,"y":1.04},{"x":8658.25,"y":1},{"x":8658.5,"y":1.03},{"x":8658.75,"y":1.01},{"x":8659,"y":0.97},{"x":8659.3,"y":0.9},{"x":8659.7,"y":1.06},{"x":8659.95,"y":0.86},{"x":8660.15,"y":0.9},{"x":8660.35,"y":1.02},{"x":8660.6,"y":0.88},{"x":8660.85,"y":1.02},{"x":8661.1,"y":0.85},{"x":8661.35,"y":0.83},{"x":8661.6,"y":0.815},{"x":8661.85,"y":0.79},{"x":8662.1,"y":0.78},{"x":8662.35,"y":0.76},{"x":8662.6,"y":0.775},{"x":8662.85,"y":0.745},{"x":8663.1,"y":0.76},{"x":8663.35,"y":0.74},{"x":8663.6,"y":0.77},{"x":8663.85,"y":0.86},{"x":8664.1,"y":0.85},{"x":8664.35,"y":0.87},{"x":8664.6,"y":0.855},{"x":8664.85,"y":0.875},{"x":8665.1,"y":0.86},{"x":8665.35,"y":0.87},{"x":8665.6,"y":0.855},{"x":8665.85,"y":0.88},{"x":8666.1,"y":0.865},{"x":8666.4,"y":0.885},{"x":8666.7,"y":0.87},{"x":8667,"y":0.895},{"x":8667.3,"y":0.88},{"x":8667.6,"y":0.905},{"x":8667.9,"y":0.895},{"x":8668.2,"y":0.92},{"x":8668.5,"y":0.935},{"x":8668.8,"y":0.95},{"x":8669.1,"y":0.98},{"x":8669.4,"y":1.02},{"x":8669.65,"y":1.1},{"x":8669.9,"y":1.15},{"x":8670.1,"y":1.12},{"x":8670.3,"y":1.29},{"x":8670.55,"y":1.1},{"x":8670.85,"y":1.39},{"x":8671.05,"y":1},{"x":8671.25,"y":1.1},{"x":8671.5,"y":1.03},{"x":8671.75,"y":1.04},{"x":8672,"y":0.97}],
 "n1": [{"x":8797,"y":1.03},{"x":8797.25,"y":1.06},{"x":8797.5,"y":1.01},{"x":8797.75,"y":1.07},{"x":8798,"y":1},{"x":8798.25,"y":1.04},{"x":8798.5,"y":0.99},{"x":8798.75,"y":1.03},{"x":8799,"y":1.005},{"x":8799.25,"y":1.02},{"x":8799.5,"y":0.985},{"x":8799.75,"y":1.055},{"x":8800,"y":1.01},{"x":8800.25,"y":1.025},{"x":8800.5,"y":0.995},{"x":8800.75,"y":1.02},{"x":8801,"y":0.98},{"x":8801.25,"y":1.015},{"x":8801.5,"y":0.995},{"x":8801.75,"y":1},{"x":8802,"y":0.975},{"x":8802.25,"y":1.05},{"x":8802.5,"y":0.99},{"x":8802.75,"y":1.035},{"x":8803,"y":0.975},{"x":8803.25,"y":1.02},{"x":8803.5,"y":0.98},{"x":8803.75,"y":1.005},{"x":8804,"y":0.995},{"x":8804.25,"y":0.96},{"x":8804.5,"y":0.92},{"x":8804.75,"y":0.955},{"x":8805,"y":0.9},{"x":8805.25,"y":0.88},{"x":8805.5,"y":0.87},{"x":8805.75,"y":0.845},{"x":8806,"y":0.83},{"x":8806.25,"y":0.81},{"x":8806.5,"y":0.79},{"x":8806.7,"y":0.75},{"x":8806.9,"y":0.82},{"x":8807.1,"y":0.77},{"x":8807.35,"y":0.805},{"x":8807.6,"y":0.795},{"x":8807.85,"y":0.81},{"x":8808.1,"y":0.83},{"x":8808.35,"y":0.86},{"x":8808.6,"y":0.84},{"x":8808.85,"y":0.88},{"x":8809.1,"y":0.86},{"x":8809.35,"y":0.92},{"x":8809.6,"y":0.935},{"x":8809.85,"y":0.96},{"x":8810.1,"y":0.945},{"x":8810.35,"y":0.975},{"x":8810.6,"y":0.995},{"x":8810.85,"y":0.985},{"x":8811.1,"y":1.05},{"x":8811.35,"y":0.99},{"x":8811.6,"y":1.04},{"x":8811.85,"y":0.98},{"x":8812.1,"y":1.02},{"x":8812.35,"y":0.975},{"x":8812.6,"y":1.005},{"x":8812.85,"y":0.96},{"x":8813.1,"y":0.995},{"x":8813.35,"y":0.93},{"x":8813.6,"y":0.985},{"x":8813.85,"y":0.95},{"x":8814.1,"y":0.99},{"x":8814.35,"y":0.935},{"x":8814.6,"y":0.975},{"x":8814.85,"y":0.955},{"x":8815.1,"y":0.99},{"x":8815.35,"y":0.96},{"x":8815.6,"y":0.975},{"x":8815.85,"y":0.945},{"x":8816.1,"y":0.965},{"x":8816.25,"y":0.91},{"x":8816.45,"y":1},{"x":8816.7,"y":0.975},{"x":8817,"y":0.99}],
 "n2": [{"x":8797,"y":0.985},{"x":8797.25,"y":0.965},{"x":8797.5,"y":0.98},{"x":8797.75,"y":0.945},{"x":8798,"y":0.98},{"x":8798.25,"y":0.96},{"x":8798.5,"y":0.985},{"x":8798.75,"y":0.97},{"x":8799,"y":0.99},{"x":8799.25,"y":0.965},{"x":8799.5,"y":0.985},{"x":8799.75,"y":0.96},{"x":8800,"y":1},{"x":8800.25,"y":0.975},{"x":8800.5,"y":1.02},{"x":8800.75,"y":0.98},{"x":8801,"y":1.01},{"x":8801.25,"y":0.975},{"x":8801.5,"y":1},{"x":8801.75,"y":0.99},{"x":8802,"y":1.02},{"x":8802.25,"y":0.985},{"x":8802.5,"y":0.995},{"x":8802.75,"y":0.975},{"x":8803,"y":0.98},{"x":8803.25,"y":0.96},{"x":8803.5,"y":0.945},{"x":8803.75,"y":0.92},{"x":8804,"y":0.96},{"x":8804.25,"y":0.95},{"x":8804.5,"y":0.92},{"x":8804.75,"y":0.9},{"x":8805,"y":0.89},{"x":8805.25,"y":0.87},{"x":8805.5,"y":0.85},{"x":8805.75,"y":0.835},{"x":8806,"y":0.815},{"x":8806.25,"y":0.81},{"x":8806.5,"y":0.775},{"x":8806.75,"y":0.75},{"x":8807,"y":0.78},{"x":8807.2,"y":0.85},{"x":8807.45,"y":0.8},{"x":8807.7,"y":0.81},{"x":8807.95,"y":0.8},{"x":8808.2,"y":0.815},{"x":8808.45,"y":0.83},{"x":8808.7,"y":0.835},{"x":8808.95,"y":0.855},{"x":8809.2,"y":0.87},{"x":8809.45,"y":0.9},{"x":8809.7,"y":0.925},{"x":8809.95,"y":0.945},{"x":8810.2,"y":0.96},{"x":8810.45,"y":0.98},{"x":8810.7,"y":0.995},{"x":8810.95,"y":0.985},{"x":8811.2,"y":1.01},{"x":8811.45,"y":0.99},{"x":8811.7,"y":1.015},{"x":8811.95,"y":0.985},{"x":8812.2,"y":1.005},{"x":8812.45,"y":0.98},{"x":8812.7,"y":0.995},{"x":8812.95,"y":0.975},{"x":8813.2,"y":1},{"x":8813.45,"y":0.96},{"x":8813.7,"y":0.985},{"x":8813.95,"y":0.95},{"x":8814.2,"y":0.98},{"x":8814.45,"y":0.96},{"x":8814.7,"y":0.99},{"x":8814.95,"y":0.955},{"x":8815.2,"y":0.985},{"x":8815.45,"y":0.965},{"x":8815.7,"y":0.995},{"x":8815.95,"y":0.99},{"x":8816.2,"y":1.01},{"x":8816.45,"y":1.06},{"x":8816.7,"y":1},{"x":8816.85,"y":0.96},{"x":8817,"y":0.97}],
 "n3": [{"x":8797,"y":0.96},{"x":8797.25,"y":1.015},{"x":8797.5,"y":0.975},{"x":8797.75,"y":0.99},{"x":8798,"y":0.97},{"x":8798.25,"y":0.995},{"x":8798.5,"y":0.975},{"x":8798.75,"y":0.99},{"x":8799,"y":0.98},{"x":8799.25,"y":1.005},{"x":8799.5,"y":0.97},{"x":8799.75,"y":0.99},{"x":8800,"y":0.965},{"x":8800.25,"y":1.01},{"x":8800.5,"y":0.985},{"x":8800.75,"y":0.995},{"x":8801,"y":0.975},{"x":8801.25,"y":1.025},{"x":8801.5,"y":0.985},{"x":8801.75,"y":0.995},{"x":8802,"y":0.97},{"x":8802.25,"y":0.99},{"x":8802.5,"y":0.955},{"x":8802.75,"y":0.98},{"x":8803,"y":0.95},{"x":8803.25,"y":0.975},{"x":8803.5,"y":0.955},{"x":8803.7,"y":1.01},{"x":8803.95,"y":0.94},{"x":8804.2,"y":0.945},{"x":8804.45,"y":0.925},{"x":8804.7,"y":0.915},{"x":8804.95,"y":0.895},{"x":8805.2,"y":0.88},{"x":8805.45,"y":0.87},{"x":8805.7,"y":0.85},{"x":8805.95,"y":0.83},{"x":8806.2,"y":0.815},{"x":8806.45,"y":0.8},{"x":8806.7,"y":0.79},{"x":8806.95,"y":0.78},{"x":8807.2,"y":0.755},{"x":8807.45,"y":0.8},{"x":8807.7,"y":0.83},{"x":8807.95,"y":0.815},{"x":8808.2,"y":0.845},{"x":8808.45,"y":0.835},{"x":8808.7,"y":0.865},{"x":8808.95,"y":0.875},{"x":8809.2,"y":0.885},{"x":8809.45,"y":0.905},{"x":8809.7,"y":0.91},{"x":8809.95,"y":0.94},{"x":8810.2,"y":0.96},{"x":8810.45,"y":0.975},{"x":8810.7,"y":0.985},{"x":8810.95,"y":0.975},{"x":8811.2,"y":0.995},{"x":8811.45,"y":0.98},{"x":8811.7,"y":0.99},{"x":8811.95,"y":0.975},{"x":8812.2,"y":0.965},{"x":8812.45,"y":0.96},{"x":8812.7,"y":0.965},{"x":8812.95,"y":0.96},{"x":8813.2,"y":0.955},{"x":8813.45,"y":0.99},{"x":8813.7,"y":0.96},{"x":8813.95,"y":1.005},{"x":8814.2,"y":0.965},{"x":8814.45,"y":1.01},{"x":8814.7,"y":0.975},{"x":8814.95,"y":1.02},{"x":8815.2,"y":0.98},{"x":8815.45,"y":1.005},{"x":8815.7,"y":0.975},{"x":8815.95,"y":1.01},{"x":8816.2,"y":1.03},{"x":8816.4,"y":1.06},{"x":8816.6,"y":1.01},{"x":8816.8,"y":0.96},{"x":8817,"y":0.97}],
 "n4": [{"x":8797,"y":0.96},{"x":8797.1,"y":0.915},{"x":8797.3,"y":0.995},{"x":8797.55,"y":0.97},{"x":8797.8,"y":0.99},{"x":8798.05,"y":0.955},{"x":8798.3,"y":0.98},{"x":8798.55,"y":0.945},{"x":8798.8,"y":0.985},{"x":8799.05,"y":0.96},{"x":8799.3,"y":0.995},{"x":8799.55,"y":0.965},{"x":8799.8,"y":0.99},{"x":8800.05,"y":0.96},{"x":8800.3,"y":1.01},{"x":8800.55,"y":0.975},{"x":8800.8,"y":1.04},{"x":8801.05,"y":0.985},{"x":8801.3,"y":1.015},{"x":8801.55,"y":0.975},{"x":8801.8,"y":1.03},{"x":8802.05,"y":0.995},{"x":8802.3,"y":1.01},{"x":8802.55,"y":0.99},{"x":8802.8,"y":1.005},{"x":8803.05,"y":0.995},{"x":8803.3,"y":1.01},{"x":8803.55,"y":0.99},{"x":8803.8,"y":0.97},{"x":8804.05,"y":0.94},{"x":8804.3,"y":0.975},{"x":8804.5,"y":0.995},{"x":8804.75,"y":0.92},{"x":8805,"y":0.89},{"x":8805.25,"y":0.875},{"x":8805.5,"y":0.85},{"x":8805.75,"y":0.83},{"x":8806,"y":0.815},{"x":8806.25,"y":0.81},{"x":8806.5,"y":0.79},{"x":8806.75,"y":0.785},{"x":8807,"y":0.77},{"x":8807.25,"y":0.79},{"x":8807.5,"y":0.83},{"x":8807.75,"y":0.815},{"x":8808,"y":0.84},{"x":8808.25,"y":0.85},{"x":8808.5,"y":0.87},{"x":8808.75,"y":0.89},{"x":8809,"y":0.91},{"x":8809.25,"y":0.92},{"x":8809.5,"y":0.945},{"x":8809.75,"y":0.955},{"x":8810,"y":0.97},{"x":8810.25,"y":0.98},{"x":8810.5,"y":0.995},{"x":8810.75,"y":1.005},{"x":8811,"y":0.99},{"x":8811.25,"y":1.03},{"x":8811.5,"y":0.995},{"x":8811.75,"y":1.015},{"x":8812,"y":0.985},{"x":8812.25,"y":1},{"x":8812.5,"y":0.975},{"x":8812.75,"y":1.005},{"x":8813,"y":0.98},{"x":8813.25,"y":0.995},{"x":8813.5,"y":0.975},{"x":8813.75,"y":1.01},{"x":8814,"y":0.98},{"x":8814.25,"y":0.995},{"x":8814.5,"y":0.97},{"x":8814.75,"y":1},{"x":8815,"y":0.975},{"x":8815.25,"y":0.99},{"x":8815.5,"y":0.985},{"x":8815.75,"y":0.995},{"x":8816,"y":1.005},{"x":8816.3,"y":1.03},{"x":8816.55,"y":1.07},{"x":8816.8,"y":1.01},{"x":8817,"y":1.02}]
},
"vconcat": [
 {"hconcat": [
  {"width": 690, "height": 364.5, "view": {"stroke": null}, "data": {"name": "txt"},
   "mark": {"type": "text", "align": "left", "baseline": "alphabetic", "font": "DejaVu Serif", "fontSize": 28.5, "color": "black"},
   "encoding": {
    "x": {"field": "x", "type": "quantitative", "scale": {"domain": [0.0688, 1.0688], "nice": false, "zero": false}, "axis": null},
    "y": {"field": "line", "type": "quantitative", "scale": {"domain": [-1.0127, 8.2858], "reverse": true, "nice": false, "zero": false}, "axis": null},
    "text": {"field": "s"}}},
  {"width": 736, "height": 364.5, "data": {"name": "rv"},
   "layer": [
    {"mark": {"type": "rule", "color": "black", "strokeWidth": 1.1, "clip": true},
     "encoding": {
      "x": {"field": "t", "type": "quantitative", "scale": {"domain": [54043.32, 54076.18], "nice": false, "zero": false},
            "axis": {"orient": "bottom", "values": [54044,54046,54048,54050,54052,54054,54056,54058,54060,54062,54064,54066,54068,54070,54072,54074,54076], "format": "d", "labelExpr": "datum.value % 10 == 0 ? datum.label : ''", "tickSize": {"condition": {"test": "datum.value % 10 == 0", "value": -9.3}, "value": -4.3}, "labelPadding": 19.3, "labelFont": "DejaVu Serif", "labelFontSize": 17.3, "title": "MJD (days)", "titleFontSize": 18, "titlePadding": 5.5}},
      "y": {"field": "lo", "type": "quantitative", "scale": {"domain": [12.93, 22.97], "nice": false, "zero": false},
            "axis": {"orient": "left", "values": [13,13.5,14,14.5,15,15.5,16,16.5,17,17.5,18,18.5,19,19.5,20,20.5,21,21.5,22,22.5], "format": "d", "labelExpr": "datum.value % 2 == 0 ? datum.label : ''", "tickSize": {"condition": {"test": "datum.value % 2 == 0", "value": -9}, "value": -4.3}, "labelPadding": 18, "labelFont": "DejaVu Serif", "labelFontSize": 17.3, "title": "RV (km/s)", "titleFontSize": 18, "titlePadding": 7}},
      "y2": {"field": "hi"}}},
    {"transform": [{"filter": "datum.k == 'o'"}],
     "mark": {"type": "point", "shape": "square", "filled": false, "color": "black", "size": 130, "strokeWidth": 1.2, "opacity": 1},
     "encoding": {
      "x": {"field": "t", "type": "quantitative", "scale": {"domain": [54043.32, 54076.18], "nice": false, "zero": false},
            "axis": {"orient": "top", "values": [54044,54046,54048,54050,54052,54054,54056,54058,54060,54062,54064,54066,54068,54070,54072,54074,54076], "labels": false, "tickSize": {"condition": {"test": "datum.value % 10 == 0", "value": -9.3}, "value": -4.3}, "title": null}},
      "y": {"field": "rv", "type": "quantitative", "scale": {"domain": [12.93, 22.97], "nice": false, "zero": false},
            "axis": {"orient": "right", "values": [13,13.5,14,14.5,15,15.5,16,16.5,17,17.5,18,18.5,19,19.5,20,20.5,21,21.5,22,22.5], "labels": false, "tickSize": {"condition": {"test": "datum.value % 2 == 0", "value": -9}, "value": -4.3}, "title": null}}}},
    {"transform": [{"filter": "datum.k == 'f'"}],
     "mark": {"type": "point", "shape": "square", "filled": true, "color": "black", "size": 64, "opacity": 1},
     "encoding": {
      "x": {"field": "t", "type": "quantitative", "scale": {"domain": [54043.32, 54076.18], "nice": false, "zero": false}, "axis": null},
      "y": {"field": "rv", "type": "quantitative", "scale": {"domain": [12.93, 22.97], "nice": false, "zero": false}, "axis": null}}}
   ]}
 ], "spacing": 21.5, "bounds": "flush"},
 {"concat": [
   {"width": 250, "height": 211.5, "layer": [
    {"data": {"name": "v1"}, "mark": {"type": "line", "color": "black", "strokeWidth": 1.2, "clip": true},
     "encoding": {"x": {"field": "v", "type": "quantitative", "scale": {"domain": [-105.2, 135.6], "nice": false, "zero": false}, "axis": {"orient": "bottom", "values": [-100,-80,-60,-40,-20,0,20,40,60,80,100,120], "labels": false, "tickSize": {"condition": {"test": "datum.value % 100 == 0", "value": -7}, "value": -3.5}, "title": null}},
      "y": {"field": "f", "type": "quantitative", "scale": {"domain": [-0.0139, 0.0886], "nice": false, "zero": false}, "axis": {"orient": "left", "values": [-0.01,-0.005,0,0.005,0.01,0.015,0.02,0.025,0.03,0.035,0.04,0.045,0.05,0.055,0.06,0.065,0.07,0.075,0.08,0.085], "format": "~g", "labelExpr": "abs(datum.value*50-round(datum.value*50))<0.001 ? datum.label : ''", "tickSize": {"condition": {"test": "abs(datum.value*50-round(datum.value*50))<0.001", "value": -8.5}, "value": -4}, "labelPadding": 17.5, "title": "Epoch #1 (54044.8)", "titleFontSize": 18.5, "titlePadding": 7}}}},
    {"data": {"name": "v1"}, "mark": {"type": "errorbar", "color": "black", "thickness": 1.2},
     "encoding": {"x": {"field": "v", "type": "quantitative", "scale": {"domain": [-105.2, 135.6], "nice": false, "zero": false}, "axis": null}, "y": {"field": "f", "type": "quantitative", "scale": {"domain": [-0.0139, 0.0886], "nice": false, "zero": false}, "axis": null}, "yError": {"field": "e"}}},
    {"data": {"values": [{"v0": 9.6}]}, "mark": {"type": "rule", "color": "black", "strokeDash": [2, 3], "strokeWidth": 1.6},
     "encoding": {"x": {"field": "v0", "type": "quantitative", "scale": {"domain": [-105.2, 135.6], "nice": false, "zero": false}, "axis": null}}},
    {"data": {"name": "v1"}, "mark": {"type": "line", "opacity": 0},
     "encoding": {"x": {"field": "v", "type": "quantitative", "scale": {"domain": [-105.2, 135.6], "nice": false, "zero": false}, "axis": {"orient": "top", "values": [-100,-80,-60,-40,-20,0,20,40,60,80,100,120], "format": "d", "labelExpr": "datum.value % 100 == 0 ? datum.label : ''", "tickSize": {"condition": {"test": "datum.value % 100 == 0", "value": -7}, "value": -3.5}, "labelPadding": 14, "title": null}},
      "y": {"field": "f", "type": "quantitative", "scale": {"domain": [-0.0139, 0.0886], "nice": false, "zero": false}, "axis": {"orient": "right", "values": [-0.01,-0.005,0,0.005,0.01,0.015,0.02,0.025,0.03,0.035,0.04,0.045,0.05,0.055,0.06,0.065,0.07,0.075,0.08,0.085], "labels": false, "tickSize": {"condition": {"test": "abs(datum.value*50-round(datum.value*50))<0.001", "value": -8.5}, "value": -4}, "title": null}}}}
   ]},
   {"width": 250, "height": 211.5, "data": {"name": "h1"}, "layer": [
    {"mark": {"type": "line", "color": "black", "strokeWidth": 1.1, "clip": true}, "encoding": {
     "x": {"field": "x", "type": "quantitative", "scale": {"domain": [6552.92, 6573.03], "nice": false, "zero": false}, "axis": {"orient": "bottom", "values": [6554,6556,6558,6560,6562,6564,6566,6568,6570,6572], "labels": false, "tickSize": {"condition": {"test": "datum.value % 10 == 0", "value": -7}, "value": -3.5}, "title": null}},
     "y": {"field": "y", "type": "quantitative", "scale": {"domain": [0.822, 1.103], "nice": false, "zero": false}, "axis": {"orient": "left", "values": [0.83,0.84,0.85,0.86,0.87,0.88,0.89,0.9,0.91,0.92,0.93,0.94,0.95,0.96,0.97,0.98,0.99,1,1.01,1.02,1.03,1.04,1.05,1.06,1.07,1.08,1.09,1.1], "format": "~g", "labelExpr": "abs(datum.value*20-round(datum.value*20))<0.001 ? datum.label : ''", "tickSize": {"condition": {"test": "abs(datum.value*20-round(datum.value*20))<0.001", "value": -8.5}, "value": -4}, "labelPadding": 17.5, "title": null}}}},
    {"mark": {"type": "line", "opacity": 0}, "encoding": {
     "x": {"field": "x", "type": "quantitative", "scale": {"domain": [6552.92, 6573.03], "nice": false, "zero": false}, "axis": {"orient": "top", "values": [6554,6556,6558,6560,6562,6564,6566,6568,6570,6572], "format": "d", "labelExpr": "datum.value % 10 == 0 ? datum.label : ''", "tickSize": {"condition": {"test": "datum.value % 10 == 0", "value": -7}, "value": -3.5}, "labelPadding": 14, "title": null}},
     "y": {"field": "y", "type": "quantitative", "scale": {"domain": [0.822, 1.103], "nice": false, "zero": false}, "axis": {"orient": "right", "values": [0.83,0.84,0.85,0.86,0.87,0.88,0.89,0.9,0.91,0.92,0.93,0.94,0.95,0.96,0.97,0.98,0.99,1,1.01,1.02,1.03,1.04,1.05,1.06,1.07,1.08,1.09,1.1], "labels": false, "tickSize": {"condition": {"test": "abs(datum.value*20-round(datum.value*20))<0.001", "value": -8.5}, "value": -4}, "title": null}}}}
   ]},
   {"width": 250, "height": 211.5, "data": {"name": "l1"}, "layer": [
    {"mark": {"type": "line", "color": "black", "strokeWidth": 1.1, "clip": true}, "encoding": {
     "x": {"field": "x", "type": "quantitative", "scale": {"domain": [6698.0, 6718.08], "nice": false, "zero": false}, "axis": {"orient": "bottom", "values": [6700,6702,6704,6706,6708,6710,6712,6714,6716], "labels": false, "tickSize": {"condition": {"test": "datum.value % 10 == 0", "value": -7}, "value": -3.5}, "title": null}},
     "y": {"field": "y", "type": "quantitative", "scale": {"domain": [0.744, 1.125], "nice": false, "zero": false}, "axis": {"orient": "left", "values": [0.76,0.78,0.8,0.82,0.84,0.86,0.88,0.9,0.92,0.94,0.96,0.98,1,1.02,1.04,1.06,1.08,1.1,1.12], "format": "~g", "labelExpr": "abs(datum.value*10-round(datum.value*10))<0.001 ? datum.label : ''", "tickSize": {"condition": {"test": "abs(datum.value*10-round(datum.value*10))<0.001", "value": -8.5}, "value": -4}, "labelPadding": 17.5, "title": null}}}},
    {"mark": {"type": "line", "opacity": 0}, "encoding": {
     "x": {"field": "x", "type": "quantitative", "scale": {"domain": [6698.0, 6718.08], "nice": false, "zero": false}, "axis": {"orient": "top", "values": [6700,6702,6704,6706,6708,6710,6712,6714,6716], "format": "d", "labelExpr": "datum.value % 10 == 0 ? datum.label : ''", "tickSize": {"condition": {"test": "datum.value % 10 == 0", "value": -7}, "value": -3.5}, "labelPadding": 14, "title": null}},
     "y": {"field": "y", "type": "quantitative", "scale": {"domain": [0.744, 1.125], "nice": false, "zero": false}, "axis": {"orient": "right", "values": [0.76,0.78,0.8,0.82,0.84,0.86,0.88,0.9,0.92,0.94,0.96,0.98,1,1.02,1.04,1.06,1.08,1.1,1.12], "labels": false, "tickSize": {"condition": {"test": "abs(datum.value*10-round(datum.value*10))<0.001", "value": -8.5}, "value": -4}, "title": null}}}}
   ]},
   {"width": 250, "height": 211.5, "data": {"name": "c1"}, "layer": [
    {"mark": {"type": "line", "color": "black", "strokeWidth": 1.1, "clip": true}, "encoding": {
     "x": {"field": "x", "type": "quantitative", "scale": {"domain": [8651.95, 8672.0], "nice": false, "zero": false}, "axis": {"orient": "bottom", "values": [8654,8656,8658,8660,8662,8664,8666,8668,8670], "labels": false, "tickSize": {"condition": {"test": "datum.value % 10 == 0", "value": -7}, "value": -3.5}, "title": null}},
     "y": {"field": "y", "type": "quantitative", "scale": {"domain": [0.615, 1.49], "nice": false, "zero": false}, "axis": {"orient": "left", "values": [0.65,0.7,0.75,0.8,0.85,0.9,0.95,1,1.05,1.1,1.15,1.2,1.25,1.3,1.35,1.4,1.45], "format": "~g", "labelExpr": "abs(datum.value*5-round(datum.value*5))<0.001 ? datum.label : ''", "tickSize": {"condition": {"test": "abs(datum.value*5-round(datum.value*5))<0.001", "value": -8.5}, "value": -4}, "labelPadding": 17.5, "title": null}}}},
    {"mark": {"type": "line", "opacity": 0}, "encoding": {
     "x": {"field": "x", "type": "quantitative", "scale": {"domain": [8651.95, 8672.0], "nice": false, "zero": false}, "axis": {"orient": "top", "values": [8654,8656,8658,8660,8662,8664,8666,8668,8670], "format": "d", "labelExpr": "datum.value % 10 == 0 ? datum.label : ''", "tickSize": {"condition": {"test": "datum.value % 10 == 0", "value": -7}, "value": -3.5}, "labelPadding": 14, "title": null}},
     "y": {"field": "y", "type": "quantitative", "scale": {"domain": [0.615, 1.49], "nice": false, "zero": false}, "axis": {"orient": "right", "values": [0.65,0.7,0.75,0.8,0.85,0.9,0.95,1,1.05,1.1,1.15,1.2,1.25,1.3,1.35,1.4,1.45], "labels": false, "tickSize": {"condition": {"test": "abs(datum.value*5-round(datum.value*5))<0.001", "value": -8.5}, "value": -4}, "title": null}}}}
   ]},
   {"width": 250, "height": 211.5, "data": {"name": "n1"}, "layer": [
    {"mark": {"type": "line", "color": "black", "strokeWidth": 1.1, "clip": true}, "encoding": {
     "x": {"field": "x", "type": "quantitative", "scale": {"domain": [8797.0, 8817.0], "nice": false, "zero": false}, "axis": {"orient": "bottom", "values": [8798,8800,8802,8804,8806,8808,8810,8812,8814,8816], "labels": false, "tickSize": {"condition": {"test": "datum.value % 10 == 0", "value": -7}, "value": -3.5}, "title": null}},
     "y": {"field": "y", "type": "quantitative", "scale": {"domain": [0.7075, 1.1135], "nice": false, "zero": false}, "axis": {"orient": "left", "values": [0.72,0.74,0.76,0.78,0.8,0.82,0.84,0.86,0.88,0.9,0.92,0.94,0.96,0.98,1,1.02,1.04,1.06,1.08,1.1], "format": "~g", "labelExpr": "abs(datum.value*10-round(datum.value*10))<0.001 ? datum.label : ''", "tickSize": {"condition": {"test": "abs(datum.value*10-round(datum.value*10))<0.001", "value": -8.5}, "value": -4}, "labelPadding": 17.5, "title": null}}}},
    {"mark": {"type": "line", "opacity": 0}, "encoding": {
     "x": {"field": "x", "type": "quantitative", "scale": {"domain": [8797.0, 8817.0], "nice": false, "zero": false}, "axis": {"orient": "top", "values": [8798,8800,8802,8804,8806,8808,8810,8812,8814,8816], "format": "d", "labelExpr": "datum.value % 10 == 0 ? datum.label : ''", "tickSize": {"condition": {"test": "datum.value % 10 == 0", "value": -7}, "value": -3.5}, "labelPadding": 14, "title": null}},
     "y": {"field": "y", "type": "quantitative", "scale": {"domain": [0.7075, 1.1135], "nice": false, "zero": false}, "axis": {"orient": "right", "values": [0.72,0.74,0.76,0.78,0.8,0.82,0.84,0.86,0.88,0.9,0.92,0.94,0.96,0.98,1,1.02,1.04,1.06,1.08,1.1], "labels": false, "tickSize": {"condition": {"test": "abs(datum.value*10-round(datum.value*10))<0.001", "value": -8.5}, "value": -4}, "title": null}}}}
   ]},
   {"width": 250, "height": 211.5, "layer": [
    {"data": {"name": "v2"}, "mark": {"type": "line", "color": "black", "strokeWidth": 1.2, "clip": true},
     "encoding": {"x": {"field": "v", "type": "quantitative", "scale": {"domain": [-105.2, 135.6], "nice": false, "zero": false}, "axis": {"orient": "bottom", "values": [-100,-80,-60,-40,-20,0,20,40,60,80,100,120], "labels": false, "tickSize": {"condition": {"test": "datum.value % 100 == 0", "value": -7}, "value": -3.5}, "title": null}},
      "y": {"field": "f", "type": "quantitative", "scale": {"domain": [-0.0139, 0.0886], "nice": false, "zero": false}, "axis": {"orient": "left", "values": [-0.01,-0.005,0,0.005,0.01,0.015,0.02,0.025,0.03,0.035,0.04,0.045,0.05,0.055,0.06,0.065,0.07,0.075,0.08,0.085], "format": "~g", "labelExpr": "abs(datum.value*50-round(datum.value*50))<0.001 ? datum.label : ''", "tickSize": {"condition": {"test": "abs(datum.value*50-round(datum.value*50))<0.001", "value": -8.5}, "value": -4}, "labelPadding": 17.5, "title": "Epoch #2 (54071.8)", "titleFontSize": 18.5, "titlePadding": 7}}}},
    {"data": {"name": "v2"}, "mark": {"type": "errorbar", "color": "black", "thickness": 1.2},
     "encoding": {"x": {"field": "v", "type": "quantitative", "scale": {"domain": [-105.2, 135.6], "nice": false, "zero": false}, "axis": null}, "y": {"field": "f", "type": "quantitative", "scale": {"domain": [-0.0139, 0.0886], "nice": false, "zero": false}, "axis": null}, "yError": {"field": "e"}}},
    {"data": {"values": [{"v0": -5}]}, "mark": {"type": "rule", "color": "black", "strokeDash": [2, 3], "strokeWidth": 1.6},
     "encoding": {"x": {"field": "v0", "type": "quantitative", "scale": {"domain": [-105.2, 135.6], "nice": false, "zero": false}, "axis": null}}},
    {"data": {"name": "v2"}, "mark": {"type": "line", "opacity": 0},
     "encoding": {"x": {"field": "v", "type": "quantitative", "scale": {"domain": [-105.2, 135.6], "nice": false, "zero": false}, "axis": {"orient": "top", "values": [-100,-80,-60,-40,-20,0,20,40,60,80,100,120], "labels": false, "tickSize": {"condition": {"test": "datum.value % 100 == 0", "value": -7}, "value": -3.5}, "title": null}},
      "y": {"field": "f", "type": "quantitative", "scale": {"domain": [-0.0139, 0.0886], "nice": false, "zero": false}, "axis": {"orient": "right", "values": [-0.01,-0.005,0,0.005,0.01,0.015,0.02,0.025,0.03,0.035,0.04,0.045,0.05,0.055,0.06,0.065,0.07,0.075,0.08,0.085], "labels": false, "tickSize": {"condition": {"test": "abs(datum.value*50-round(datum.value*50))<0.001", "value": -8.5}, "value": -4}, "title": null}}}}
   ]},
   {"width": 250, "height": 211.5, "data": {"name": "h2"}, "layer": [
    {"mark": {"type": "line", "color": "black", "strokeWidth": 1.1, "clip": true}, "encoding": {
     "x": {"field": "x", "type": "quantitative", "scale": {"domain": [6552.92, 6573.03], "nice": false, "zero": false}, "axis": {"orient": "bottom", "values": [6554,6556,6558,6560,6562,6564,6566,6568,6570,6572], "labels": false, "tickSize": {"condition": {"test": "datum.value % 10 == 0", "value": -7}, "value": -3.5}, "title": null}},
     "y": {"field": "y", "type": "quantitative", "scale": {"domain": [0.822, 1.103], "nice": false, "zero": false}, "axis": {"orient": "left", "values": [0.83,0.84,0.85,0.86,0.87,0.88,0.89,0.9,0.91,0.92,0.93,0.94,0.95,0.96,0.97,0.98,0.99,1,1.01,1.02,1.03,1.04,1.05,1.06,1.07,1.08,1.09,1.1], "format": "~g", "labelExpr": "abs(datum.value*20-round(datum.value*20))<0.001 ? datum.label : ''", "tickSize": {"condition": {"test": "abs(datum.value*20-round(datum.value*20))<0.001", "value": -8.5}, "value": -4}, "labelPadding": 17.5, "title": null}}}},
    {"mark": {"type": "line", "opacity": 0}, "encoding": {
     "x": {"field": "x", "type": "quantitative", "scale": {"domain": [6552.92, 6573.03], "nice": false, "zero": false}, "axis": {"orient": "top", "values": [6554,6556,6558,6560,6562,6564,6566,6568,6570,6572], "labels": false, "tickSize": {"condition": {"test": "datum.value % 10 == 0", "value": -7}, "value": -3.5}, "title": null}},
     "y": {"field": "y", "type": "quantitative", "scale": {"domain": [0.822, 1.103], "nice": false, "zero": false}, "axis": {"orient": "right", "values": [0.83,0.84,0.85,0.86,0.87,0.88,0.89,0.9,0.91,0.92,0.93,0.94,0.95,0.96,0.97,0.98,0.99,1,1.01,1.02,1.03,1.04,1.05,1.06,1.07,1.08,1.09,1.1], "labels": false, "tickSize": {"condition": {"test": "abs(datum.value*20-round(datum.value*20))<0.001", "value": -8.5}, "value": -4}, "title": null}}}}
   ]},
   {"width": 250, "height": 211.5, "data": {"name": "l2"}, "layer": [
    {"mark": {"type": "line", "color": "black", "strokeWidth": 1.1, "clip": true}, "encoding": {
     "x": {"field": "x", "type": "quantitative", "scale": {"domain": [6698.0, 6718.08], "nice": false, "zero": false}, "axis": {"orient": "bottom", "values": [6700,6702,6704,6706,6708,6710,6712,6714,6716], "labels": false, "tickSize": {"condition": {"test": "datum.value % 10 == 0", "value": -7}, "value": -3.5}, "title": null}},
     "y": {"field": "y", "type": "quantitative", "scale": {"domain": [0.744, 1.125], "nice": false, "zero": false}, "axis": {"orient": "left", "values": [0.76,0.78,0.8,0.82,0.84,0.86,0.88,0.9,0.92,0.94,0.96,0.98,1,1.02,1.04,1.06,1.08,1.1,1.12], "format": "~g", "labelExpr": "abs(datum.value*10-round(datum.value*10))<0.001 ? datum.label : ''", "tickSize": {"condition": {"test": "abs(datum.value*10-round(datum.value*10))<0.001", "value": -8.5}, "value": -4}, "labelPadding": 17.5, "title": null}}}},
    {"mark": {"type": "line", "opacity": 0}, "encoding": {
     "x": {"field": "x", "type": "quantitative", "scale": {"domain": [6698.0, 6718.08], "nice": false, "zero": false}, "axis": {"orient": "top", "values": [6700,6702,6704,6706,6708,6710,6712,6714,6716], "labels": false, "tickSize": {"condition": {"test": "datum.value % 10 == 0", "value": -7}, "value": -3.5}, "title": null}},
     "y": {"field": "y", "type": "quantitative", "scale": {"domain": [0.744, 1.125], "nice": false, "zero": false}, "axis": {"orient": "right", "values": [0.76,0.78,0.8,0.82,0.84,0.86,0.88,0.9,0.92,0.94,0.96,0.98,1,1.02,1.04,1.06,1.08,1.1,1.12], "labels": false, "tickSize": {"condition": {"test": "abs(datum.value*10-round(datum.value*10))<0.001", "value": -8.5}, "value": -4}, "title": null}}}}
   ]},
   {"width": 250, "height": 211.5, "data": {"name": "c2"}, "layer": [
    {"mark": {"type": "line", "color": "black", "strokeWidth": 1.1, "clip": true}, "encoding": {
     "x": {"field": "x", "type": "quantitative", "scale": {"domain": [8651.95, 8672.0], "nice": false, "zero": false}, "axis": {"orient": "bottom", "values": [8654,8656,8658,8660,8662,8664,8666,8668,8670], "labels": false, "tickSize": {"condition": {"test": "datum.value % 10 == 0", "value": -7}, "value": -3.5}, "title": null}},
     "y": {"field": "y", "type": "quantitative", "scale": {"domain": [0.615, 1.49], "nice": false, "zero": false}, "axis": {"orient": "left", "values": [0.65,0.7,0.75,0.8,0.85,0.9,0.95,1,1.05,1.1,1.15,1.2,1.25,1.3,1.35,1.4,1.45], "format": "~g", "labelExpr": "abs(datum.value*5-round(datum.value*5))<0.001 ? datum.label : ''", "tickSize": {"condition": {"test": "abs(datum.value*5-round(datum.value*5))<0.001", "value": -8.5}, "value": -4}, "labelPadding": 17.5, "title": null}}}},
    {"mark": {"type": "line", "opacity": 0}, "encoding": {
     "x": {"field": "x", "type": "quantitative", "scale": {"domain": [8651.95, 8672.0], "nice": false, "zero": false}, "axis": {"orient": "top", "values": [8654,8656,8658,8660,8662,8664,8666,8668,8670], "labels": false, "tickSize": {"condition": {"test": "datum.value % 10 == 0", "value": -7}, "value": -3.5}, "title": null}},
     "y": {"field": "y", "type": "quantitative", "scale": {"domain": [0.615, 1.49], "nice": false, "zero": false}, "axis": {"orient": "right", "values": [0.65,0.7,0.75,0.8,0.85,0.9,0.95,1,1.05,1.1,1.15,1.2,1.25,1.3,1.35,1.4,1.45], "labels": false, "tickSize": {"condition": {"test": "abs(datum.value*5-round(datum.value*5))<0.001", "value": -8.5}, "value": -4}, "title": null}}}}
   ]},
   {"width": 250, "height": 211.5, "data": {"name": "n2"}, "layer": [
    {"mark": {"type": "line", "color": "black", "strokeWidth": 1.1, "clip": true}, "encoding": {
     "x": {"field": "x", "type": "quantitative", "scale": {"domain": [8797.0, 8817.0], "nice": false, "zero": false}, "axis": {"orient": "bottom", "values": [8798,8800,8802,8804,8806,8808,8810,8812,8814,8816], "labels": false, "tickSize": {"condition": {"test": "datum.value % 10 == 0", "value": -7}, "value": -3.5}, "title": null}},
     "y": {"field": "y", "type": "quantitative", "scale": {"domain": [0.7075, 1.1135], "nice": false, "zero": false}, "axis": {"orient": "left", "values": [0.72,0.74,0.76,0.78,0.8,0.82,0.84,0.86,0.88,0.9,0.92,0.94,0.96,0.98,1,1.02,1.04,1.06,1.08,1.1], "format": "~g", "labelExpr": "abs(datum.value*10-round(datum.value*10))<0.001 ? datum.label : ''", "tickSize": {"condition": {"test": "abs(datum.value*10-round(datum.value*10))<0.001", "value": -8.5}, "value": -4}, "labelPadding": 17.5, "title": null}}}},
    {"mark": {"type": "line", "opacity": 0}, "encoding": {
     "x": {"field": "x", "type": "quantitative", "scale": {"domain": [8797.0, 8817.0], "nice": false, "zero": false}, "axis": {"orient": "top", "values": [8798,8800,8802,8804,8806,8808,8810,8812,8814,8816], "labels": false, "tickSize": {"condition": {"test": "datum.value % 10 == 0", "value": -7}, "value": -3.5}, "title": null}},
     "y": {"field": "y", "type": "quantitative", "scale": {"domain": [0.7075, 1.1135], "nice": false, "zero": false}, "axis": {"orient": "right", "values": [0.72,0.74,0.76,0.78,0.8,0.82,0.84,0.86,0.88,0.9,0.92,0.94,0.96,0.98,1,1.02,1.04,1.06,1.08,1.1], "labels": false, "tickSize": {"condition": {"test": "abs(datum.value*10-round(datum.value*10))<0.001", "value": -8.5}, "value": -4}, "title": null}}}}
   ]},
   {"width": 250, "height": 211.5, "layer": [
    {"data": {"name": "v3"}, "mark": {"type": "line", "color": "black", "strokeWidth": 1.2, "clip": true},
     "encoding": {"x": {"field": "v", "type": "quantitative", "scale": {"domain": [-105.2, 135.6], "nice": false, "zero": false}, "axis": {"orient": "bottom", "values": [-100,-80,-60,-40,-20,0,20,40,60,80,100,120], "labels": false, "tickSize": {"condition": {"test": "datum.value % 100 == 0", "value": -7}, "value": -3.5}, "title": null}},
      "y": {"field": "f", "type": "quantitative", "scale": {"domain": [-0.0139, 0.0886], "nice": false, "zero": false}, "axis": {"orient": "left", "values": [-0.01,-0.005,0,0.005,0.01,0.015,0.02,0.025,0.03,0.035,0.04,0.045,0.05,0.055,0.06,0.065,0.07,0.075,0.08,0.085], "format": "~g", "labelExpr": "abs(datum.value*50-round(datum.value*50))<0.001 ? datum.label : ''", "tickSize": {"condition": {"test": "abs(datum.value*50-round(datum.value*50))<0.001", "value": -8.5}, "value": -4}, "labelPadding": 17.5, "title": "Epoch #3 (54072.6)", "titleFontSize": 18.5, "titlePadding": 7}}}},
    {"data": {"name": "v3"}, "mark": {"type": "errorbar", "color": "black", "thickness": 1.2},
     "encoding": {"x": {"field": "v", "type": "quantitative", "scale": {"domain": [-105.2, 135.6], "nice": false, "zero": false}, "axis": null}, "y": {"field": "f", "type": "quantitative", "scale": {"domain": [-0.0139, 0.0886], "nice": false, "zero": false}, "axis": null}, "yError": {"field": "e"}}},
    {"data": {"values": [{"v0": -5}]}, "mark": {"type": "rule", "color": "black", "strokeDash": [2, 3], "strokeWidth": 1.6},
     "encoding": {"x": {"field": "v0", "type": "quantitative", "scale": {"domain": [-105.2, 135.6], "nice": false, "zero": false}, "axis": null}}},
    {"data": {"name": "v3"}, "mark": {"type": "line", "opacity": 0},
     "encoding": {"x": {"field": "v", "type": "quantitative", "scale": {"domain": [-105.2, 135.6], "nice": false, "zero": false}, "axis": {"orient": "top", "values": [-100,-80,-60,-40,-20,0,20,40,60,80,100,120], "labels": false, "tickSize": {"condition": {"test": "datum.value % 100 == 0", "value": -7}, "value": -3.5}, "title": null}},
      "y": {"field": "f", "type": "quantitative", "scale": {"domain": [-0.0139, 0.0886], "nice": false, "zero": false}, "axis": {"orient": "right", "values": [-0.01,-0.005,0,0.005,0.01,0.015,0.02,0.025,0.03,0.035,0.04,0.045,0.05,0.055,0.06,0.065,0.07,0.075,0.08,0.085], "labels": false, "tickSize": {"condition": {"test": "abs(datum.value*50-round(datum.value*50))<0.001", "value": -8.5}, "value": -4}, "title": null}}}}
   ]},
   {"width": 250, "height": 211.5, "data": {"name": "h3"}, "layer": [
    {"mark": {"type": "line", "color": "black", "strokeWidth": 1.1, "clip": true}, "encoding": {
     "x": {"field": "x", "type": "quantitative", "scale": {"domain": [6552.92, 6573.03], "nice": false, "zero": false}, "axis": {"orient": "bottom", "values": [6554,6556,6558,6560,6562,6564,6566,6568,6570,6572], "labels": false, "tickSize": {"condition": {"test": "datum.value % 10 == 0", "value": -7}, "value": -3.5}, "title": null}},
     "y": {"field": "y", "type": "quantitative", "scale": {"domain": [0.822, 1.103], "nice": false, "zero": false}, "axis": {"orient": "left", "values": [0.83,0.84,0.85,0.86,0.87,0.88,0.89,0.9,0.91,0.92,0.93,0.94,0.95,0.96,0.97,0.98,0.99,1,1.01,1.02,1.03,1.04,1.05,1.06,1.07,1.08,1.09,1.1], "format": "~g", "labelExpr": "abs(datum.value*20-round(datum.value*20))<0.001 ? datum.label : ''", "tickSize": {"condition": {"test": "abs(datum.value*20-round(datum.value*20))<0.001", "value": -8.5}, "value": -4}, "labelPadding": 17.5, "title": null}}}},
    {"mark": {"type": "line", "opacity": 0}, "encoding": {
     "x": {"field": "x", "type": "quantitative", "scale": {"domain": [6552.92, 6573.03], "nice": false, "zero": false}, "axis": {"orient": "top", "values": [6554,6556,6558,6560,6562,6564,6566,6568,6570,6572], "labels": false, "tickSize": {"condition": {"test": "datum.value % 10 == 0", "value": -7}, "value": -3.5}, "title": null}},
     "y": {"field": "y", "type": "quantitative", "scale": {"domain": [0.822, 1.103], "nice": false, "zero": false}, "axis": {"orient": "right", "values": [0.83,0.84,0.85,0.86,0.87,0.88,0.89,0.9,0.91,0.92,0.93,0.94,0.95,0.96,0.97,0.98,0.99,1,1.01,1.02,1.03,1.04,1.05,1.06,1.07,1.08,1.09,1.1], "labels": false, "tickSize": {"condition": {"test": "abs(datum.value*20-round(datum.value*20))<0.001", "value": -8.5}, "value": -4}, "title": null}}}}
   ]},
   {"width": 250, "height": 211.5, "data": {"name": "l3"}, "layer": [
    {"mark": {"type": "line", "color": "black", "strokeWidth": 1.1, "clip": true}, "encoding": {
     "x": {"field": "x", "type": "quantitative", "scale": {"domain": [6698.0, 6718.08], "nice": false, "zero": false}, "axis": {"orient": "bottom", "values": [6700,6702,6704,6706,6708,6710,6712,6714,6716], "labels": false, "tickSize": {"condition": {"test": "datum.value % 10 == 0", "value": -7}, "value": -3.5}, "title": null}},
     "y": {"field": "y", "type": "quantitative", "scale": {"domain": [0.744, 1.125], "nice": false, "zero": false}, "axis": {"orient": "left", "values": [0.76,0.78,0.8,0.82,0.84,0.86,0.88,0.9,0.92,0.94,0.96,0.98,1,1.02,1.04,1.06,1.08,1.1,1.12], "format": "~g", "labelExpr": "abs(datum.value*10-round(datum.value*10))<0.001 ? datum.label : ''", "tickSize": {"condition": {"test": "abs(datum.value*10-round(datum.value*10))<0.001", "value": -8.5}, "value": -4}, "labelPadding": 17.5, "title": null}}}},
    {"mark": {"type": "line", "opacity": 0}, "encoding": {
     "x": {"field": "x", "type": "quantitative", "scale": {"domain": [6698.0, 6718.08], "nice": false, "zero": false}, "axis": {"orient": "top", "values": [6700,6702,6704,6706,6708,6710,6712,6714,6716], "labels": false, "tickSize": {"condition": {"test": "datum.value % 10 == 0", "value": -7}, "value": -3.5}, "title": null}},
     "y": {"field": "y", "type": "quantitative", "scale": {"domain": [0.744, 1.125], "nice": false, "zero": false}, "axis": {"orient": "right", "values": [0.76,0.78,0.8,0.82,0.84,0.86,0.88,0.9,0.92,0.94,0.96,0.98,1,1.02,1.04,1.06,1.08,1.1,1.12], "labels": false, "tickSize": {"condition": {"test": "abs(datum.value*10-round(datum.value*10))<0.001", "value": -8.5}, "value": -4}, "title": null}}}}
   ]},
   {"width": 250, "height": 211.5, "data": {"name": "c3"}, "layer": [
    {"mark": {"type": "line", "color": "black", "strokeWidth": 1.1, "clip": true}, "encoding": {
     "x": {"field": "x", "type": "quantitative", "scale": {"domain": [8651.95, 8672.0], "nice": false, "zero": false}, "axis": {"orient": "bottom", "values": [8654,8656,8658,8660,8662,8664,8666,8668,8670], "labels": false, "tickSize": {"condition": {"test": "datum.value % 10 == 0", "value": -7}, "value": -3.5}, "title": null}},
     "y": {"field": "y", "type": "quantitative", "scale": {"domain": [0.615, 1.49], "nice": false, "zero": false}, "axis": {"orient": "left", "values": [0.65,0.7,0.75,0.8,0.85,0.9,0.95,1,1.05,1.1,1.15,1.2,1.25,1.3,1.35,1.4,1.45], "format": "~g", "labelExpr": "abs(datum.value*5-round(datum.value*5))<0.001 ? datum.label : ''", "tickSize": {"condition": {"test": "abs(datum.value*5-round(datum.value*5))<0.001", "value": -8.5}, "value": -4}, "labelPadding": 17.5, "title": null}}}},
    {"mark": {"type": "line", "opacity": 0}, "encoding": {
     "x": {"field": "x", "type": "quantitative", "scale": {"domain": [8651.95, 8672.0], "nice": false, "zero": false}, "axis": {"orient": "top", "values": [8654,8656,8658,8660,8662,8664,8666,8668,8670], "labels": false, "tickSize": {"condition": {"test": "datum.value % 10 == 0", "value": -7}, "value": -3.5}, "title": null}},
     "y": {"field": "y", "type": "quantitative", "scale": {"domain": [0.615, 1.49], "nice": false, "zero": false}, "axis": {"orient": "right", "values": [0.65,0.7,0.75,0.8,0.85,0.9,0.95,1,1.05,1.1,1.15,1.2,1.25,1.3,1.35,1.4,1.45], "labels": false, "tickSize": {"condition": {"test": "abs(datum.value*5-round(datum.value*5))<0.001", "value": -8.5}, "value": -4}, "title": null}}}}
   ]},
   {"width": 250, "height": 211.5, "data": {"name": "n3"}, "layer": [
    {"mark": {"type": "line", "color": "black", "strokeWidth": 1.1, "clip": true}, "encoding": {
     "x": {"field": "x", "type": "quantitative", "scale": {"domain": [8797.0, 8817.0], "nice": false, "zero": false}, "axis": {"orient": "bottom", "values": [8798,8800,8802,8804,8806,8808,8810,8812,8814,8816], "labels": false, "tickSize": {"condition": {"test": "datum.value % 10 == 0", "value": -7}, "value": -3.5}, "title": null}},
     "y": {"field": "y", "type": "quantitative", "scale": {"domain": [0.7075, 1.1135], "nice": false, "zero": false}, "axis": {"orient": "left", "values": [0.72,0.74,0.76,0.78,0.8,0.82,0.84,0.86,0.88,0.9,0.92,0.94,0.96,0.98,1,1.02,1.04,1.06,1.08,1.1], "format": "~g", "labelExpr": "abs(datum.value*10-round(datum.value*10))<0.001 ? datum.label : ''", "tickSize": {"condition": {"test": "abs(datum.value*10-round(datum.value*10))<0.001", "value": -8.5}, "value": -4}, "labelPadding": 17.5, "title": null}}}},
    {"mark": {"type": "line", "opacity": 0}, "encoding": {
     "x": {"field": "x", "type": "quantitative", "scale": {"domain": [8797.0, 8817.0], "nice": false, "zero": false}, "axis": {"orient": "top", "values": [8798,8800,8802,8804,8806,8808,8810,8812,8814,8816], "labels": false, "tickSize": {"condition": {"test": "datum.value % 10 == 0", "value": -7}, "value": -3.5}, "title": null}},
     "y": {"field": "y", "type": "quantitative", "scale": {"domain": [0.7075, 1.1135], "nice": false, "zero": false}, "axis": {"orient": "right", "values": [0.72,0.74,0.76,0.78,0.8,0.82,0.84,0.86,0.88,0.9,0.92,0.94,0.96,0.98,1,1.02,1.04,1.06,1.08,1.1], "labels": false, "tickSize": {"condition": {"test": "abs(datum.value*10-round(datum.value*10))<0.001", "value": -8.5}, "value": -4}, "title": null}}}}
   ]},
   {"width": 250, "height": 211.5, "layer": [
    {"data": {"name": "v4"}, "mark": {"type": "line", "color": "black", "strokeWidth": 1.2, "clip": true},
     "encoding": {"x": {"field": "v", "type": "quantitative", "scale": {"domain": [-105.2, 135.6], "nice": false, "zero": false}, "axis": {"orient": "bottom", "values": [-100,-80,-60,-40,-20,0,20,40,60,80,100,120], "format": "d", "labelExpr": "datum.value % 100 == 0 ? datum.label : ''", "tickSize": {"condition": {"test": "datum.value % 100 == 0", "value": -7}, "value": -3.5}, "labelPadding": 19, "title": "Velocity (km/s)", "titlePadding": 5.7}},
      "y": {"field": "f", "type": "quantitative", "scale": {"domain": [-0.0139, 0.0886], "nice": false, "zero": false}, "axis": {"orient": "left", "values": [-0.01,-0.005,0,0.005,0.01,0.015,0.02,0.025,0.03,0.035,0.04,0.045,0.05,0.055,0.06,0.065,0.07,0.075,0.08,0.085], "format": "~g", "labelExpr": "abs(datum.value*50-round(datum.value*50))<0.001 ? datum.label : ''", "tickSize": {"condition": {"test": "abs(datum.value*50-round(datum.value*50))<0.001", "value": -8.5}, "value": -4}, "labelPadding": 17.5, "title": "Epoch #4 (54074.7)", "titleFontSize": 18.5, "titlePadding": 7}}}},
    {"data": {"name": "v4"}, "mark": {"type": "errorbar", "color": "black", "thickness": 1.2},
     "encoding": {"x": {"field": "v", "type": "quantitative", "scale": {"domain": [-105.2, 135.6], "nice": false, "zero": false}, "axis": null}, "y": {"field": "f", "type": "quantitative", "scale": {"domain": [-0.0139, 0.0886], "nice": false, "zero": false}, "axis": null}, "yError": {"field": "e"}}},
    {"data": {"values": [{"v0": -6.2}]}, "mark": {"type": "rule", "color": "black", "strokeDash": [2, 3], "strokeWidth": 1.6},
     "encoding": {"x": {"field": "v0", "type": "quantitative", "scale": {"domain": [-105.2, 135.6], "nice": false, "zero": false}, "axis": null}}},
    {"data": {"name": "v4"}, "mark": {"type": "line", "opacity": 0},
     "encoding": {"x": {"field": "v", "type": "quantitative", "scale": {"domain": [-105.2, 135.6], "nice": false, "zero": false}, "axis": {"orient": "top", "values": [-100,-80,-60,-40,-20,0,20,40,60,80,100,120], "labels": false, "tickSize": {"condition": {"test": "datum.value % 100 == 0", "value": -7}, "value": -3.5}, "title": null}},
      "y": {"field": "f", "type": "quantitative", "scale": {"domain": [-0.0139, 0.0886], "nice": false, "zero": false}, "axis": {"orient": "right", "values": [-0.01,-0.005,0,0.005,0.01,0.015,0.02,0.025,0.03,0.035,0.04,0.045,0.05,0.055,0.06,0.065,0.07,0.075,0.08,0.085], "labels": false, "tickSize": {"condition": {"test": "abs(datum.value*50-round(datum.value*50))<0.001", "value": -8.5}, "value": -4}, "title": null}}}}
   ]},
   {"width": 250, "height": 211.5, "data": {"name": "h4"}, "layer": [
    {"mark": {"type": "line", "color": "black", "strokeWidth": 1.1, "clip": true}, "encoding": {
     "x": {"field": "x", "type": "quantitative", "scale": {"domain": [6552.92, 6573.03], "nice": false, "zero": false}, "axis": {"orient": "bottom", "values": [6554,6556,6558,6560,6562,6564,6566,6568,6570,6572], "format": "d", "labelExpr": "datum.value % 10 == 0 ? datum.label : ''", "tickSize": {"condition": {"test": "datum.value % 10 == 0", "value": -7}, "value": -3.5}, "labelPadding": 19, "title": "Wavelength (Å)", "titlePadding": 5.7}},
     "y": {"field": "y", "type": "quantitative", "scale": {"domain": [0.822, 1.103], "nice": false, "zero": false}, "axis": {"orient": "left", "values": [0.83,0.84,0.85,0.86,0.87,0.88,0.89,0.9,0.91,0.92,0.93,0.94,0.95,0.96,0.97,0.98,0.99,1,1.01,1.02,1.03,1.04,1.05,1.06,1.07,1.08,1.09,1.1], "format": "~g", "labelExpr": "abs(datum.value*20-round(datum.value*20))<0.001 ? datum.label : ''", "tickSize": {"condition": {"test": "abs(datum.value*20-round(datum.value*20))<0.001", "value": -8.5}, "value": -4}, "labelPadding": 17.5, "title": null}}}},
    {"mark": {"type": "line", "opacity": 0}, "encoding": {
     "x": {"field": "x", "type": "quantitative", "scale": {"domain": [6552.92, 6573.03], "nice": false, "zero": false}, "axis": {"orient": "top", "values": [6554,6556,6558,6560,6562,6564,6566,6568,6570,6572], "labels": false, "tickSize": {"condition": {"test": "datum.value % 10 == 0", "value": -7}, "value": -3.5}, "title": null}},
     "y": {"field": "y", "type": "quantitative", "scale": {"domain": [0.822, 1.103], "nice": false, "zero": false}, "axis": {"orient": "right", "values": [0.83,0.84,0.85,0.86,0.87,0.88,0.89,0.9,0.91,0.92,0.93,0.94,0.95,0.96,0.97,0.98,0.99,1,1.01,1.02,1.03,1.04,1.05,1.06,1.07,1.08,1.09,1.1], "labels": false, "tickSize": {"condition": {"test": "abs(datum.value*20-round(datum.value*20))<0.001", "value": -8.5}, "value": -4}, "title": null}}}}
   ]},
   {"width": 250, "height": 211.5, "data": {"name": "l4"}, "layer": [
    {"mark": {"type": "line", "color": "black", "strokeWidth": 1.1, "clip": true}, "encoding": {
     "x": {"field": "x", "type": "quantitative", "scale": {"domain": [6698.0, 6718.08], "nice": false, "zero": false}, "axis": {"orient": "bottom", "values": [6700,6702,6704,6706,6708,6710,6712,6714,6716], "format": "d", "labelExpr": "datum.value % 10 == 0 ? datum.label : ''", "tickSize": {"condition": {"test": "datum.value % 10 == 0", "value": -7}, "value": -3.5}, "labelPadding": 19, "title": "Wavelength (Å)", "titlePadding": 5.7}},
     "y": {"field": "y", "type": "quantitative", "scale": {"domain": [0.744, 1.125], "nice": false, "zero": false}, "axis": {"orient": "left", "values": [0.76,0.78,0.8,0.82,0.84,0.86,0.88,0.9,0.92,0.94,0.96,0.98,1,1.02,1.04,1.06,1.08,1.1,1.12], "format": "~g", "labelExpr": "abs(datum.value*10-round(datum.value*10))<0.001 ? datum.label : ''", "tickSize": {"condition": {"test": "abs(datum.value*10-round(datum.value*10))<0.001", "value": -8.5}, "value": -4}, "labelPadding": 17.5, "title": null}}}},
    {"mark": {"type": "line", "opacity": 0}, "encoding": {
     "x": {"field": "x", "type": "quantitative", "scale": {"domain": [6698.0, 6718.08], "nice": false, "zero": false}, "axis": {"orient": "top", "values": [6700,6702,6704,6706,6708,6710,6712,6714,6716], "labels": false, "tickSize": {"condition": {"test": "datum.value % 10 == 0", "value": -7}, "value": -3.5}, "title": null}},
     "y": {"field": "y", "type": "quantitative", "scale": {"domain": [0.744, 1.125], "nice": false, "zero": false}, "axis": {"orient": "right", "values": [0.76,0.78,0.8,0.82,0.84,0.86,0.88,0.9,0.92,0.94,0.96,0.98,1,1.02,1.04,1.06,1.08,1.1,1.12], "labels": false, "tickSize": {"condition": {"test": "abs(datum.value*10-round(datum.value*10))<0.001", "value": -8.5}, "value": -4}, "title": null}}}}
   ]},
   {"width": 250, "height": 211.5, "data": {"name": "c4"}, "layer": [
    {"mark": {"type": "line", "color": "black", "strokeWidth": 1.1, "clip": true}, "encoding": {
     "x": {"field": "x", "type": "quantitative", "scale": {"domain": [8651.95, 8672.0], "nice": false, "zero": false}, "axis": {"orient": "bottom", "values": [8654,8656,8658,8660,8662,8664,8666,8668,8670], "format": "d", "labelExpr": "datum.value % 10 == 0 ? datum.label : ''", "tickSize": {"condition": {"test": "datum.value % 10 == 0", "value": -7}, "value": -3.5}, "labelPadding": 19, "title": "Wavelength (Å)", "titlePadding": 5.7}},
     "y": {"field": "y", "type": "quantitative", "scale": {"domain": [0.615, 1.49], "nice": false, "zero": false}, "axis": {"orient": "left", "values": [0.65,0.7,0.75,0.8,0.85,0.9,0.95,1,1.05,1.1,1.15,1.2,1.25,1.3,1.35,1.4,1.45], "format": "~g", "labelExpr": "abs(datum.value*5-round(datum.value*5))<0.001 ? datum.label : ''", "tickSize": {"condition": {"test": "abs(datum.value*5-round(datum.value*5))<0.001", "value": -8.5}, "value": -4}, "labelPadding": 17.5, "title": null}}}},
    {"mark": {"type": "line", "opacity": 0}, "encoding": {
     "x": {"field": "x", "type": "quantitative", "scale": {"domain": [8651.95, 8672.0], "nice": false, "zero": false}, "axis": {"orient": "top", "values": [8654,8656,8658,8660,8662,8664,8666,8668,8670], "labels": false, "tickSize": {"condition": {"test": "datum.value % 10 == 0", "value": -7}, "value": -3.5}, "title": null}},
     "y": {"field": "y", "type": "quantitative", "scale": {"domain": [0.615, 1.49], "nice": false, "zero": false}, "axis": {"orient": "right", "values": [0.65,0.7,0.75,0.8,0.85,0.9,0.95,1,1.05,1.1,1.15,1.2,1.25,1.3,1.35,1.4,1.45], "labels": false, "tickSize": {"condition": {"test": "abs(datum.value*5-round(datum.value*5))<0.001", "value": -8.5}, "value": -4}, "title": null}}}}
   ]},
   {"width": 250, "height": 211.5, "data": {"name": "n4"}, "layer": [
    {"mark": {"type": "line", "color": "black", "strokeWidth": 1.1, "clip": true}, "encoding": {
     "x": {"field": "x", "type": "quantitative", "scale": {"domain": [8797.0, 8817.0], "nice": false, "zero": false}, "axis": {"orient": "bottom", "values": [8798,8800,8802,8804,8806,8808,8810,8812,8814,8816], "format": "d", "labelExpr": "datum.value % 10 == 0 ? datum.label : ''", "tickSize": {"condition": {"test": "datum.value % 10 == 0", "value": -7}, "value": -3.5}, "labelPadding": 19, "title": "Wavelength (Å)", "titlePadding": 5.7}},
     "y": {"field": "y", "type": "quantitative", "scale": {"domain": [0.7075, 1.1135], "nice": false, "zero": false}, "axis": {"orient": "left", "values": [0.72,0.74,0.76,0.78,0.8,0.82,0.84,0.86,0.88,0.9,0.92,0.94,0.96,0.98,1,1.02,1.04,1.06,1.08,1.1], "format": "~g", "labelExpr": "abs(datum.value*10-round(datum.value*10))<0.001 ? datum.label : ''", "tickSize": {"condition": {"test": "abs(datum.value*10-round(datum.value*10))<0.001", "value": -8.5}, "value": -4}, "labelPadding": 17.5, "title": null}}}},
    {"mark": {"type": "line", "opacity": 0}, "encoding": {
     "x": {"field": "x", "type": "quantitative", "scale": {"domain": [8797.0, 8817.0], "nice": false, "zero": false}, "axis": {"orient": "top", "values": [8798,8800,8802,8804,8806,8808,8810,8812,8814,8816], "labels": false, "tickSize": {"condition": {"test": "datum.value % 10 == 0", "value": -7}, "value": -3.5}, "title": null}},
     "y": {"field": "y", "type": "quantitative", "scale": {"domain": [0.7075, 1.1135], "nice": false, "zero": false}, "axis": {"orient": "right", "values": [0.72,0.74,0.76,0.78,0.8,0.82,0.84,0.86,0.88,0.9,0.92,0.94,0.96,0.98,1,1.02,1.04,1.06,1.08,1.1], "labels": false, "tickSize": {"condition": {"test": "abs(datum.value*10-round(datum.value*10))<0.001", "value": -8.5}, "value": -4}, "title": null}}}}
   ]}
 ], "columns": 5, "spacing": {"row": 0, "column": 49}, "bounds": "flush"}
]
}
